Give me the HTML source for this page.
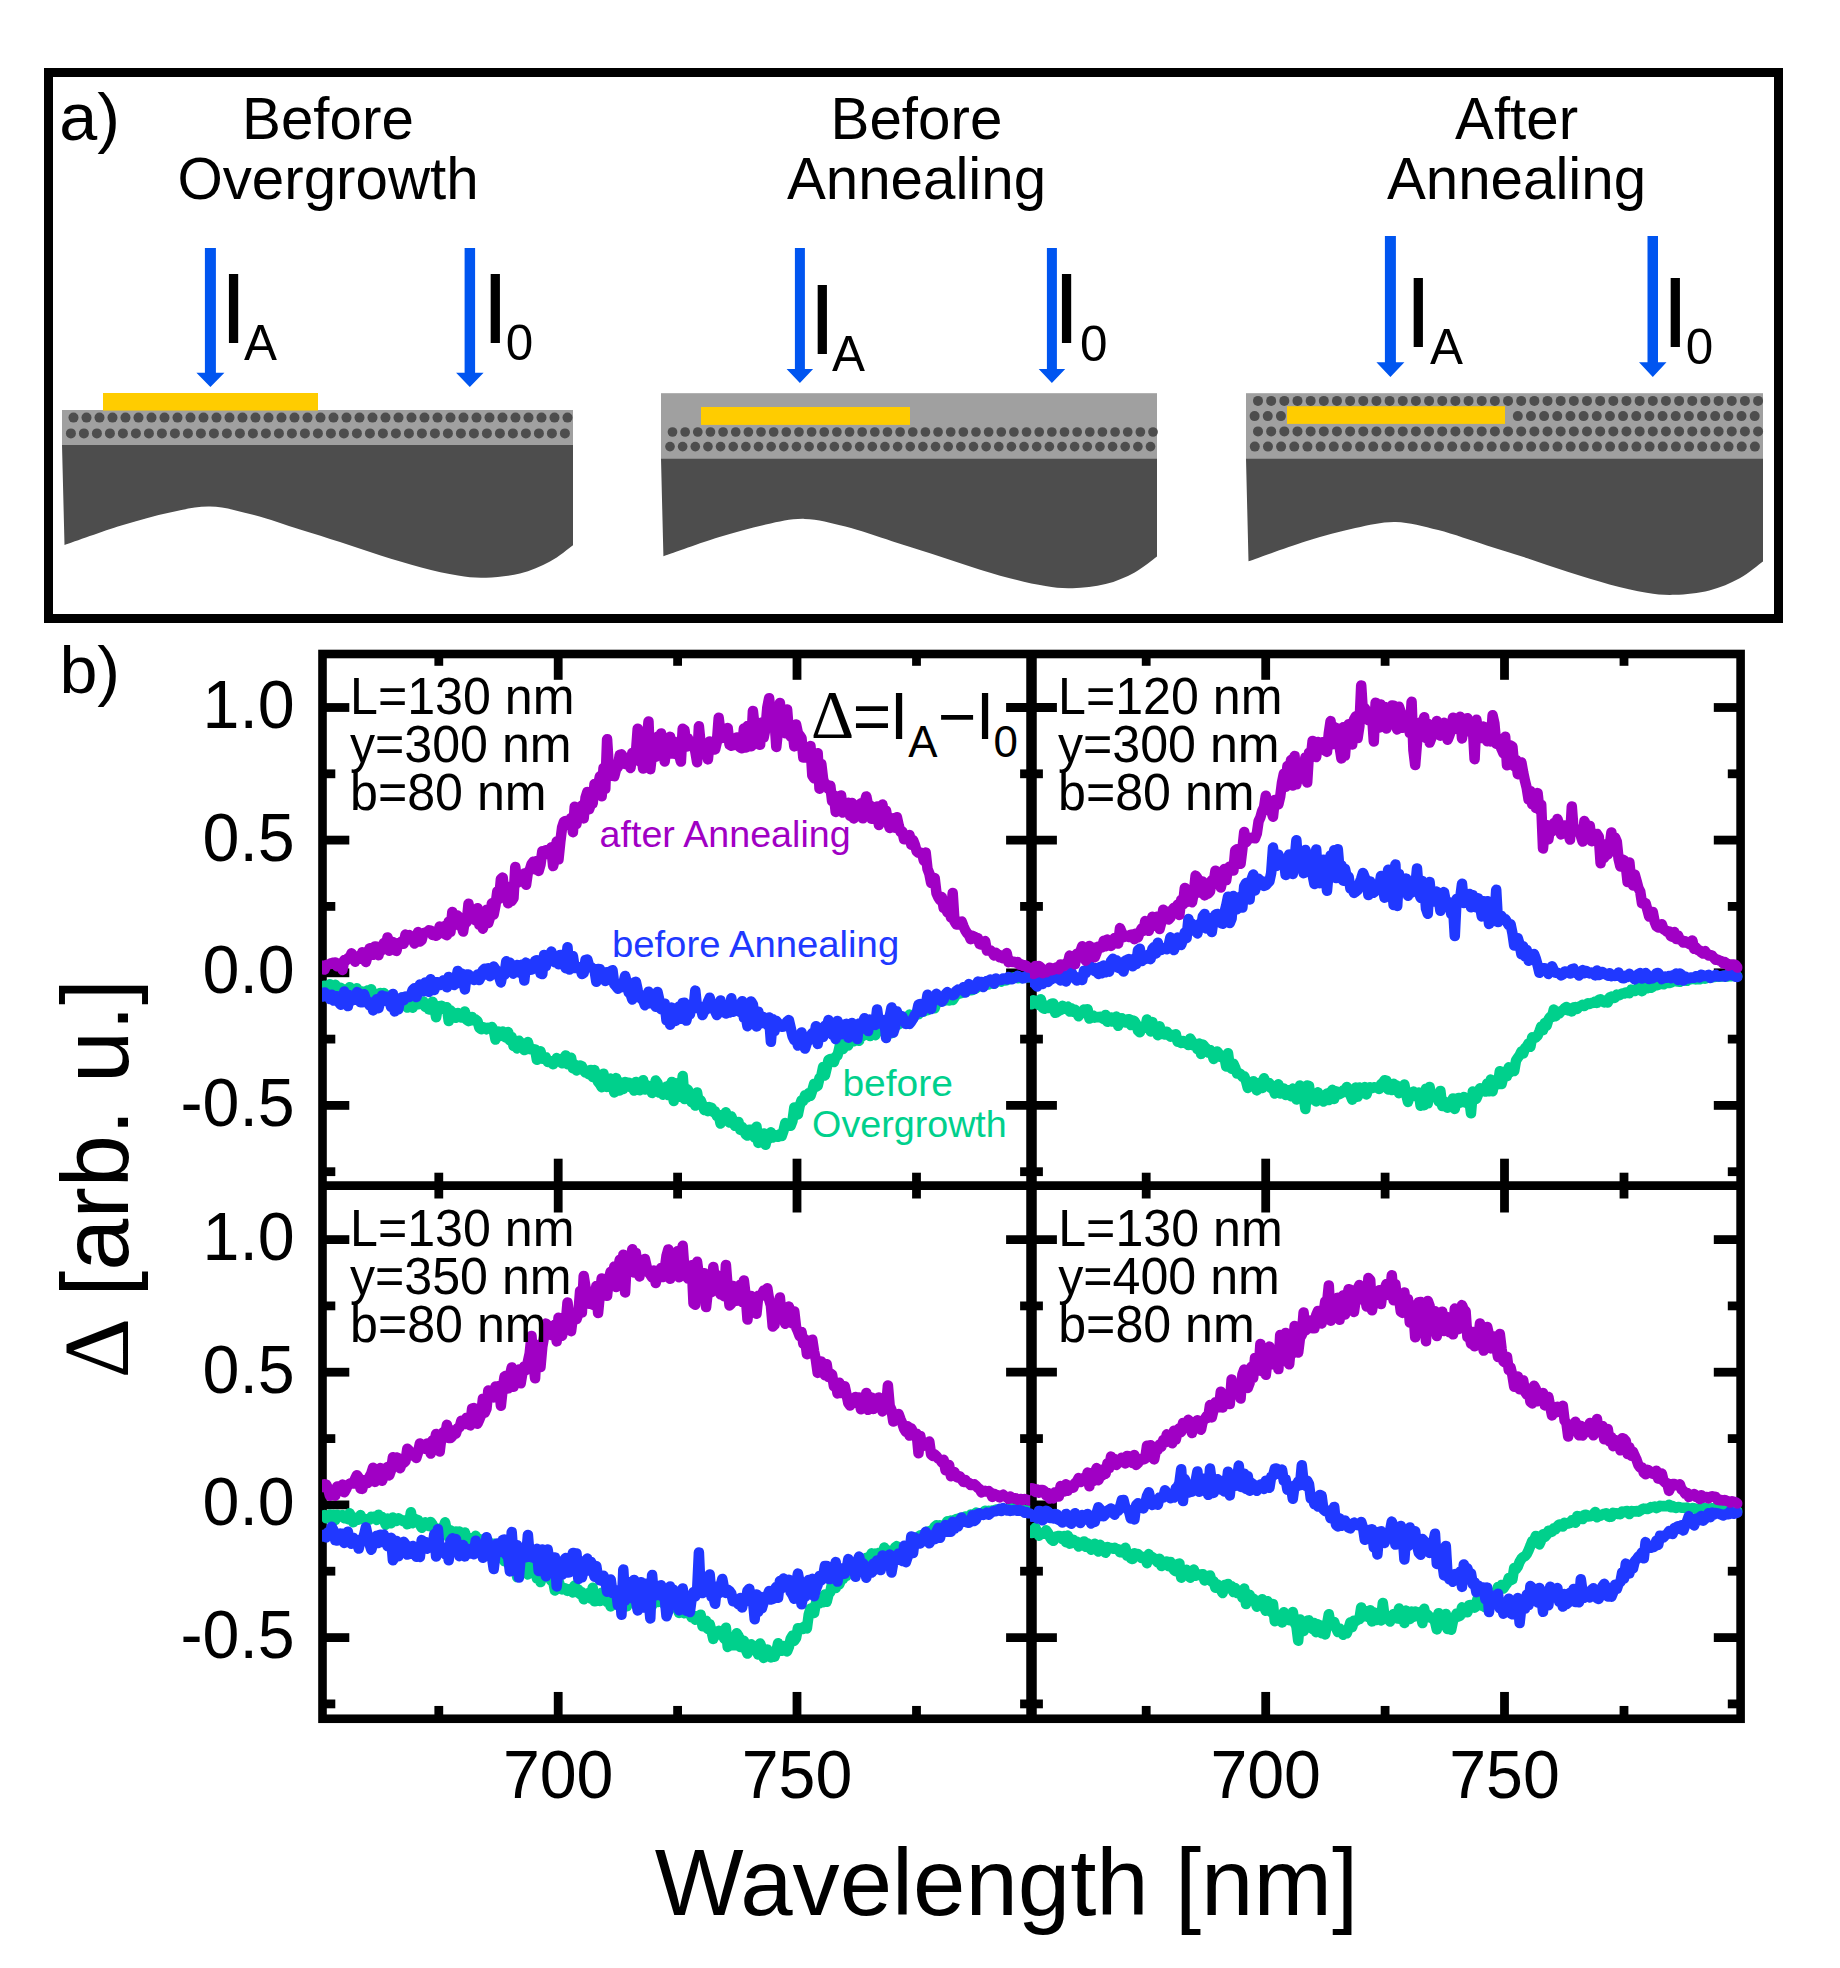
<!DOCTYPE html>
<html lang="en"><head><meta charset="utf-8"><title>Figure</title>
<style>
html,body{margin:0;padding:0;background:#fff;}
svg{display:block;font-family:"Liberation Sans", Arial, Helvetica, sans-serif;}
</style></head>
<body>
<svg width="1840" height="1968" viewBox="0 0 1840 1968">
<rect width="1840" height="1968" fill="#fff"/>
<rect x="48.5" y="72.5" width="1730" height="546" fill="none" stroke="#000" stroke-width="9"/>
<text x="59.3" y="139.6" font-size="67.57" textLength="60.7" lengthAdjust="spacingAndGlyphs">a)</text>
<text x="242.1" y="138.6" font-size="58.50" textLength="171.7" lengthAdjust="spacingAndGlyphs">Before</text>
<text x="177.4" y="198.8" font-size="58.50" textLength="301.2" lengthAdjust="spacingAndGlyphs">Overgrowth</text>
<text x="830.6" y="138.6" font-size="58.50" textLength="171.7" lengthAdjust="spacingAndGlyphs">Before</text>
<text x="786.9" y="198.8" font-size="58.50" textLength="259.2" lengthAdjust="spacingAndGlyphs">Annealing</text>
<text x="1455.0" y="138.6" font-size="58.50" textLength="123.1" lengthAdjust="spacingAndGlyphs">After</text>
<text x="1386.9" y="198.8" font-size="58.50" textLength="259.2" lengthAdjust="spacingAndGlyphs">Annealing</text>
<rect x="62" y="410" width="511" height="35.5" fill="#A0A0A0"/>
<path d="M62,445 L573,445 L573.0,545.2 C569.2,547.9 558.8,556.8 550.0,561.5 C541.2,566.2 530.7,570.8 520.0,573.5 C509.3,576.2 496.3,577.4 486.0,577.7 C475.7,578.1 468.8,577.3 458.0,575.6 C447.2,573.9 434.2,570.9 421.3,567.5 C408.4,564.1 394.2,559.6 380.6,555.4 C367.1,551.1 353.4,546.3 340.0,542.0 C326.6,537.7 314.7,534.1 300.0,529.5 C285.3,524.9 267.0,518.3 252.0,514.5 C237.0,510.7 223.7,506.9 210.0,506.6 C196.3,506.3 184.8,509.4 170.0,512.5 C155.2,515.6 138.9,520.1 121.3,525.5 C103.7,530.9 74.0,541.8 64.5,545.0 Z" fill="#4D4D4D"/>
<g fill="#4D4D4D">
<circle cx="73.50" cy="417.6" r="5.0"/>
<circle cx="86.50" cy="417.6" r="5.0"/>
<circle cx="99.50" cy="417.6" r="5.0"/>
<circle cx="112.50" cy="417.6" r="5.0"/>
<circle cx="125.50" cy="417.6" r="5.0"/>
<circle cx="138.50" cy="417.6" r="5.0"/>
<circle cx="151.50" cy="417.6" r="5.0"/>
<circle cx="164.50" cy="417.6" r="5.0"/>
<circle cx="177.50" cy="417.6" r="5.0"/>
<circle cx="190.50" cy="417.6" r="5.0"/>
<circle cx="203.50" cy="417.6" r="5.0"/>
<circle cx="216.50" cy="417.6" r="5.0"/>
<circle cx="229.50" cy="417.6" r="5.0"/>
<circle cx="242.50" cy="417.6" r="5.0"/>
<circle cx="255.50" cy="417.6" r="5.0"/>
<circle cx="268.50" cy="417.6" r="5.0"/>
<circle cx="281.50" cy="417.6" r="5.0"/>
<circle cx="294.50" cy="417.6" r="5.0"/>
<circle cx="307.50" cy="417.6" r="5.0"/>
<circle cx="320.50" cy="417.6" r="5.0"/>
<circle cx="333.50" cy="417.6" r="5.0"/>
<circle cx="346.50" cy="417.6" r="5.0"/>
<circle cx="359.50" cy="417.6" r="5.0"/>
<circle cx="372.50" cy="417.6" r="5.0"/>
<circle cx="385.50" cy="417.6" r="5.0"/>
<circle cx="398.50" cy="417.6" r="5.0"/>
<circle cx="411.50" cy="417.6" r="5.0"/>
<circle cx="424.50" cy="417.6" r="5.0"/>
<circle cx="437.50" cy="417.6" r="5.0"/>
<circle cx="450.50" cy="417.6" r="5.0"/>
<circle cx="463.50" cy="417.6" r="5.0"/>
<circle cx="476.50" cy="417.6" r="5.0"/>
<circle cx="489.50" cy="417.6" r="5.0"/>
<circle cx="502.50" cy="417.6" r="5.0"/>
<circle cx="515.50" cy="417.6" r="5.0"/>
<circle cx="528.50" cy="417.6" r="5.0"/>
<circle cx="541.50" cy="417.6" r="5.0"/>
<circle cx="554.50" cy="417.6" r="5.0"/>
<circle cx="567.50" cy="417.6" r="5.0"/>
<circle cx="70.90" cy="433.4" r="5.0"/>
<circle cx="83.90" cy="433.4" r="5.0"/>
<circle cx="96.90" cy="433.4" r="5.0"/>
<circle cx="109.90" cy="433.4" r="5.0"/>
<circle cx="122.90" cy="433.4" r="5.0"/>
<circle cx="135.90" cy="433.4" r="5.0"/>
<circle cx="148.90" cy="433.4" r="5.0"/>
<circle cx="161.90" cy="433.4" r="5.0"/>
<circle cx="174.90" cy="433.4" r="5.0"/>
<circle cx="187.90" cy="433.4" r="5.0"/>
<circle cx="200.90" cy="433.4" r="5.0"/>
<circle cx="213.90" cy="433.4" r="5.0"/>
<circle cx="226.90" cy="433.4" r="5.0"/>
<circle cx="239.90" cy="433.4" r="5.0"/>
<circle cx="252.90" cy="433.4" r="5.0"/>
<circle cx="265.90" cy="433.4" r="5.0"/>
<circle cx="278.90" cy="433.4" r="5.0"/>
<circle cx="291.90" cy="433.4" r="5.0"/>
<circle cx="304.90" cy="433.4" r="5.0"/>
<circle cx="317.90" cy="433.4" r="5.0"/>
<circle cx="330.90" cy="433.4" r="5.0"/>
<circle cx="343.90" cy="433.4" r="5.0"/>
<circle cx="356.90" cy="433.4" r="5.0"/>
<circle cx="369.90" cy="433.4" r="5.0"/>
<circle cx="382.90" cy="433.4" r="5.0"/>
<circle cx="395.90" cy="433.4" r="5.0"/>
<circle cx="408.90" cy="433.4" r="5.0"/>
<circle cx="421.90" cy="433.4" r="5.0"/>
<circle cx="434.90" cy="433.4" r="5.0"/>
<circle cx="447.90" cy="433.4" r="5.0"/>
<circle cx="460.90" cy="433.4" r="5.0"/>
<circle cx="473.90" cy="433.4" r="5.0"/>
<circle cx="486.90" cy="433.4" r="5.0"/>
<circle cx="499.90" cy="433.4" r="5.0"/>
<circle cx="512.90" cy="433.4" r="5.0"/>
<circle cx="525.90" cy="433.4" r="5.0"/>
<circle cx="538.90" cy="433.4" r="5.0"/>
<circle cx="551.90" cy="433.4" r="5.0"/>
<circle cx="564.90" cy="433.4" r="5.0"/>
</g>
<rect x="103" y="393" width="215" height="17.6" fill="#FFCC00"/>
<path d="M204.9,248 H215.9 V372.8 H224.4 L210.4,387 L196.4,372.8 H204.9 Z" fill="#0055F0"/>
<path d="M464.6,248 H475.1 V372.8 H483.6 L469.8,387 L456.1,372.8 H464.6 Z" fill="#0055F0"/>
<text><tspan x="219.8" y="343" font-size="99.39">I</tspan><tspan x="244.0" y="359.8" font-size="49.44">A</tspan></text>
<text><tspan x="481.6" y="343" font-size="99.39">I</tspan><tspan x="505.7" y="359.8" font-size="49.44">0</tspan></text>
<rect x="661" y="393.2" width="496" height="66" fill="#A0A0A0"/>
<path d="M661,458.8 L1157,458.8 L1157.0,556.5 C1153.3,559.1 1143.2,567.8 1134.7,572.4 C1126.1,577.0 1115.9,581.5 1105.6,584.1 C1095.2,586.7 1082.6,587.8 1072.6,588.2 C1062.5,588.5 1055.8,587.8 1045.4,586.1 C1034.9,584.5 1022.3,581.5 1009.8,578.2 C997.2,575.0 983.4,570.6 970.2,566.4 C957.1,562.3 943.9,557.6 930.8,553.4 C917.8,549.2 906.2,545.7 892.0,541.2 C877.8,536.7 860.0,530.3 845.4,526.6 C830.9,522.8 817.9,519.2 804.7,518.9 C791.4,518.5 780.2,521.5 765.8,524.6 C751.5,527.7 735.6,532.0 718.6,537.3 C701.5,542.6 672.6,553.1 663.4,556.3 Z" fill="#4D4D4D"/>
<g fill="#4D4D4D">
<circle cx="672.50" cy="432" r="4.85"/>
<circle cx="685.14" cy="432" r="4.85"/>
<circle cx="697.79" cy="432" r="4.85"/>
<circle cx="710.43" cy="432" r="4.85"/>
<circle cx="723.08" cy="432" r="4.85"/>
<circle cx="735.73" cy="432" r="4.85"/>
<circle cx="748.37" cy="432" r="4.85"/>
<circle cx="761.01" cy="432" r="4.85"/>
<circle cx="773.66" cy="432" r="4.85"/>
<circle cx="786.30" cy="432" r="4.85"/>
<circle cx="798.95" cy="432" r="4.85"/>
<circle cx="811.60" cy="432" r="4.85"/>
<circle cx="824.24" cy="432" r="4.85"/>
<circle cx="836.88" cy="432" r="4.85"/>
<circle cx="849.53" cy="432" r="4.85"/>
<circle cx="862.17" cy="432" r="4.85"/>
<circle cx="874.82" cy="432" r="4.85"/>
<circle cx="887.47" cy="432" r="4.85"/>
<circle cx="900.11" cy="432" r="4.85"/>
<circle cx="912.75" cy="432" r="4.85"/>
<circle cx="925.40" cy="432" r="4.85"/>
<circle cx="938.05" cy="432" r="4.85"/>
<circle cx="950.69" cy="432" r="4.85"/>
<circle cx="963.34" cy="432" r="4.85"/>
<circle cx="975.98" cy="432" r="4.85"/>
<circle cx="988.62" cy="432" r="4.85"/>
<circle cx="1001.27" cy="432" r="4.85"/>
<circle cx="1013.91" cy="432" r="4.85"/>
<circle cx="1026.56" cy="432" r="4.85"/>
<circle cx="1039.20" cy="432" r="4.85"/>
<circle cx="1051.85" cy="432" r="4.85"/>
<circle cx="1064.49" cy="432" r="4.85"/>
<circle cx="1077.14" cy="432" r="4.85"/>
<circle cx="1089.78" cy="432" r="4.85"/>
<circle cx="1102.43" cy="432" r="4.85"/>
<circle cx="1115.08" cy="432" r="4.85"/>
<circle cx="1127.72" cy="432" r="4.85"/>
<circle cx="1140.37" cy="432" r="4.85"/>
<circle cx="1153.01" cy="432" r="4.85"/>
<circle cx="670.00" cy="446.6" r="4.85"/>
<circle cx="682.64" cy="446.6" r="4.85"/>
<circle cx="695.29" cy="446.6" r="4.85"/>
<circle cx="707.93" cy="446.6" r="4.85"/>
<circle cx="720.58" cy="446.6" r="4.85"/>
<circle cx="733.23" cy="446.6" r="4.85"/>
<circle cx="745.87" cy="446.6" r="4.85"/>
<circle cx="758.51" cy="446.6" r="4.85"/>
<circle cx="771.16" cy="446.6" r="4.85"/>
<circle cx="783.80" cy="446.6" r="4.85"/>
<circle cx="796.45" cy="446.6" r="4.85"/>
<circle cx="809.10" cy="446.6" r="4.85"/>
<circle cx="821.74" cy="446.6" r="4.85"/>
<circle cx="834.38" cy="446.6" r="4.85"/>
<circle cx="847.03" cy="446.6" r="4.85"/>
<circle cx="859.67" cy="446.6" r="4.85"/>
<circle cx="872.32" cy="446.6" r="4.85"/>
<circle cx="884.97" cy="446.6" r="4.85"/>
<circle cx="897.61" cy="446.6" r="4.85"/>
<circle cx="910.25" cy="446.6" r="4.85"/>
<circle cx="922.90" cy="446.6" r="4.85"/>
<circle cx="935.55" cy="446.6" r="4.85"/>
<circle cx="948.19" cy="446.6" r="4.85"/>
<circle cx="960.84" cy="446.6" r="4.85"/>
<circle cx="973.48" cy="446.6" r="4.85"/>
<circle cx="986.12" cy="446.6" r="4.85"/>
<circle cx="998.77" cy="446.6" r="4.85"/>
<circle cx="1011.41" cy="446.6" r="4.85"/>
<circle cx="1024.06" cy="446.6" r="4.85"/>
<circle cx="1036.70" cy="446.6" r="4.85"/>
<circle cx="1049.35" cy="446.6" r="4.85"/>
<circle cx="1061.99" cy="446.6" r="4.85"/>
<circle cx="1074.64" cy="446.6" r="4.85"/>
<circle cx="1087.28" cy="446.6" r="4.85"/>
<circle cx="1099.93" cy="446.6" r="4.85"/>
<circle cx="1112.58" cy="446.6" r="4.85"/>
<circle cx="1125.22" cy="446.6" r="4.85"/>
<circle cx="1137.87" cy="446.6" r="4.85"/>
<circle cx="1150.51" cy="446.6" r="4.85"/>
</g>
<rect x="701" y="407" width="209" height="17.9" fill="#FFCC00"/>
<path d="M794.9,248 H804.9 V369 H813.1 L799.9,383 L786.6,369 H794.9 Z" fill="#0055F0"/>
<path d="M1046.9,248 H1056.9 V369 H1065.2 L1051.9,383 L1038.7,369 H1046.9 Z" fill="#0055F0"/>
<text><tspan x="808.6" y="354" font-size="99.39">I</tspan><tspan x="832.0" y="370.8" font-size="49.44">A</tspan></text>
<text><tspan x="1052.8" y="343" font-size="99.39">I</tspan><tspan x="1080.0" y="361.2" font-size="49.44">0</tspan></text>
<rect x="1246" y="393.2" width="517" height="66" fill="#A0A0A0"/>
<path d="M1246,458.8 L1763,458.8 L1763.0,561.5 C1759.1,564.3 1748.7,573.4 1739.7,578.2 C1730.8,583.0 1720.2,587.7 1709.4,590.5 C1698.6,593.3 1685.4,594.5 1675.0,594.8 C1664.5,595.2 1657.6,594.4 1646.6,592.7 C1635.7,590.9 1622.6,587.8 1609.5,584.4 C1596.5,580.9 1582.0,576.3 1568.3,572.0 C1554.6,567.6 1540.9,562.6 1527.3,558.2 C1513.7,553.8 1501.6,550.1 1486.8,545.4 C1472.0,540.7 1453.4,533.9 1438.2,530.0 C1423.1,526.1 1409.6,522.3 1395.7,521.9 C1381.9,521.6 1370.2,524.8 1355.3,528.0 C1340.3,531.2 1323.8,535.8 1306.0,541.3 C1288.2,546.9 1258.1,558.0 1248.5,561.3 Z" fill="#4D4D4D"/>
<g fill="#4D4D4D">
<circle cx="1258.00" cy="400.9" r="5.0"/>
<circle cx="1271.16" cy="400.9" r="5.0"/>
<circle cx="1284.32" cy="400.9" r="5.0"/>
<circle cx="1297.48" cy="400.9" r="5.0"/>
<circle cx="1310.64" cy="400.9" r="5.0"/>
<circle cx="1323.80" cy="400.9" r="5.0"/>
<circle cx="1336.96" cy="400.9" r="5.0"/>
<circle cx="1350.12" cy="400.9" r="5.0"/>
<circle cx="1363.28" cy="400.9" r="5.0"/>
<circle cx="1376.44" cy="400.9" r="5.0"/>
<circle cx="1389.60" cy="400.9" r="5.0"/>
<circle cx="1402.76" cy="400.9" r="5.0"/>
<circle cx="1415.92" cy="400.9" r="5.0"/>
<circle cx="1429.08" cy="400.9" r="5.0"/>
<circle cx="1442.24" cy="400.9" r="5.0"/>
<circle cx="1455.40" cy="400.9" r="5.0"/>
<circle cx="1468.56" cy="400.9" r="5.0"/>
<circle cx="1481.72" cy="400.9" r="5.0"/>
<circle cx="1494.88" cy="400.9" r="5.0"/>
<circle cx="1508.04" cy="400.9" r="5.0"/>
<circle cx="1521.20" cy="400.9" r="5.0"/>
<circle cx="1534.36" cy="400.9" r="5.0"/>
<circle cx="1547.52" cy="400.9" r="5.0"/>
<circle cx="1560.68" cy="400.9" r="5.0"/>
<circle cx="1573.84" cy="400.9" r="5.0"/>
<circle cx="1587.00" cy="400.9" r="5.0"/>
<circle cx="1600.16" cy="400.9" r="5.0"/>
<circle cx="1613.32" cy="400.9" r="5.0"/>
<circle cx="1626.48" cy="400.9" r="5.0"/>
<circle cx="1639.64" cy="400.9" r="5.0"/>
<circle cx="1652.80" cy="400.9" r="5.0"/>
<circle cx="1665.96" cy="400.9" r="5.0"/>
<circle cx="1679.12" cy="400.9" r="5.0"/>
<circle cx="1692.28" cy="400.9" r="5.0"/>
<circle cx="1705.44" cy="400.9" r="5.0"/>
<circle cx="1718.60" cy="400.9" r="5.0"/>
<circle cx="1731.76" cy="400.9" r="5.0"/>
<circle cx="1744.92" cy="400.9" r="5.0"/>
<circle cx="1758.08" cy="400.9" r="5.0"/>
<circle cx="1254.60" cy="416.1" r="5.0"/>
<circle cx="1267.76" cy="416.1" r="5.0"/>
<circle cx="1280.92" cy="416.1" r="5.0"/>
<circle cx="1517.80" cy="416.1" r="5.0"/>
<circle cx="1530.96" cy="416.1" r="5.0"/>
<circle cx="1544.12" cy="416.1" r="5.0"/>
<circle cx="1557.28" cy="416.1" r="5.0"/>
<circle cx="1570.44" cy="416.1" r="5.0"/>
<circle cx="1583.60" cy="416.1" r="5.0"/>
<circle cx="1596.76" cy="416.1" r="5.0"/>
<circle cx="1609.92" cy="416.1" r="5.0"/>
<circle cx="1623.08" cy="416.1" r="5.0"/>
<circle cx="1636.24" cy="416.1" r="5.0"/>
<circle cx="1649.40" cy="416.1" r="5.0"/>
<circle cx="1662.56" cy="416.1" r="5.0"/>
<circle cx="1675.72" cy="416.1" r="5.0"/>
<circle cx="1688.88" cy="416.1" r="5.0"/>
<circle cx="1702.04" cy="416.1" r="5.0"/>
<circle cx="1715.20" cy="416.1" r="5.0"/>
<circle cx="1728.36" cy="416.1" r="5.0"/>
<circle cx="1741.52" cy="416.1" r="5.0"/>
<circle cx="1754.68" cy="416.1" r="5.0"/>
<circle cx="1258.00" cy="431.4" r="5.0"/>
<circle cx="1271.16" cy="431.4" r="5.0"/>
<circle cx="1284.32" cy="431.4" r="5.0"/>
<circle cx="1297.48" cy="431.4" r="5.0"/>
<circle cx="1310.64" cy="431.4" r="5.0"/>
<circle cx="1323.80" cy="431.4" r="5.0"/>
<circle cx="1336.96" cy="431.4" r="5.0"/>
<circle cx="1350.12" cy="431.4" r="5.0"/>
<circle cx="1363.28" cy="431.4" r="5.0"/>
<circle cx="1376.44" cy="431.4" r="5.0"/>
<circle cx="1389.60" cy="431.4" r="5.0"/>
<circle cx="1402.76" cy="431.4" r="5.0"/>
<circle cx="1415.92" cy="431.4" r="5.0"/>
<circle cx="1429.08" cy="431.4" r="5.0"/>
<circle cx="1442.24" cy="431.4" r="5.0"/>
<circle cx="1455.40" cy="431.4" r="5.0"/>
<circle cx="1468.56" cy="431.4" r="5.0"/>
<circle cx="1481.72" cy="431.4" r="5.0"/>
<circle cx="1494.88" cy="431.4" r="5.0"/>
<circle cx="1508.04" cy="431.4" r="5.0"/>
<circle cx="1521.20" cy="431.4" r="5.0"/>
<circle cx="1534.36" cy="431.4" r="5.0"/>
<circle cx="1547.52" cy="431.4" r="5.0"/>
<circle cx="1560.68" cy="431.4" r="5.0"/>
<circle cx="1573.84" cy="431.4" r="5.0"/>
<circle cx="1587.00" cy="431.4" r="5.0"/>
<circle cx="1600.16" cy="431.4" r="5.0"/>
<circle cx="1613.32" cy="431.4" r="5.0"/>
<circle cx="1626.48" cy="431.4" r="5.0"/>
<circle cx="1639.64" cy="431.4" r="5.0"/>
<circle cx="1652.80" cy="431.4" r="5.0"/>
<circle cx="1665.96" cy="431.4" r="5.0"/>
<circle cx="1679.12" cy="431.4" r="5.0"/>
<circle cx="1692.28" cy="431.4" r="5.0"/>
<circle cx="1705.44" cy="431.4" r="5.0"/>
<circle cx="1718.60" cy="431.4" r="5.0"/>
<circle cx="1731.76" cy="431.4" r="5.0"/>
<circle cx="1744.92" cy="431.4" r="5.0"/>
<circle cx="1758.08" cy="431.4" r="5.0"/>
<circle cx="1254.80" cy="446.6" r="5.0"/>
<circle cx="1267.96" cy="446.6" r="5.0"/>
<circle cx="1281.12" cy="446.6" r="5.0"/>
<circle cx="1294.28" cy="446.6" r="5.0"/>
<circle cx="1307.44" cy="446.6" r="5.0"/>
<circle cx="1320.60" cy="446.6" r="5.0"/>
<circle cx="1333.76" cy="446.6" r="5.0"/>
<circle cx="1346.92" cy="446.6" r="5.0"/>
<circle cx="1360.08" cy="446.6" r="5.0"/>
<circle cx="1373.24" cy="446.6" r="5.0"/>
<circle cx="1386.40" cy="446.6" r="5.0"/>
<circle cx="1399.56" cy="446.6" r="5.0"/>
<circle cx="1412.72" cy="446.6" r="5.0"/>
<circle cx="1425.88" cy="446.6" r="5.0"/>
<circle cx="1439.04" cy="446.6" r="5.0"/>
<circle cx="1452.20" cy="446.6" r="5.0"/>
<circle cx="1465.36" cy="446.6" r="5.0"/>
<circle cx="1478.52" cy="446.6" r="5.0"/>
<circle cx="1491.68" cy="446.6" r="5.0"/>
<circle cx="1504.84" cy="446.6" r="5.0"/>
<circle cx="1518.00" cy="446.6" r="5.0"/>
<circle cx="1531.16" cy="446.6" r="5.0"/>
<circle cx="1544.32" cy="446.6" r="5.0"/>
<circle cx="1557.48" cy="446.6" r="5.0"/>
<circle cx="1570.64" cy="446.6" r="5.0"/>
<circle cx="1583.80" cy="446.6" r="5.0"/>
<circle cx="1596.96" cy="446.6" r="5.0"/>
<circle cx="1610.12" cy="446.6" r="5.0"/>
<circle cx="1623.28" cy="446.6" r="5.0"/>
<circle cx="1636.44" cy="446.6" r="5.0"/>
<circle cx="1649.60" cy="446.6" r="5.0"/>
<circle cx="1662.76" cy="446.6" r="5.0"/>
<circle cx="1675.92" cy="446.6" r="5.0"/>
<circle cx="1689.08" cy="446.6" r="5.0"/>
<circle cx="1702.24" cy="446.6" r="5.0"/>
<circle cx="1715.40" cy="446.6" r="5.0"/>
<circle cx="1728.56" cy="446.6" r="5.0"/>
<circle cx="1741.72" cy="446.6" r="5.0"/>
<circle cx="1754.88" cy="446.6" r="5.0"/>
</g>
<rect x="1287" y="406.2" width="218" height="17.7" fill="#FFCC00"/>
<path d="M1384.9,236 H1395.9 V362.3 H1404.4 L1390.4,377 L1376.4,362.3 H1384.9 Z" fill="#0055F0"/>
<path d="M1647.5,236 H1658.0 V362.3 H1666.5 L1652.8,377 L1639.0,362.3 H1647.5 Z" fill="#0055F0"/>
<text><tspan x="1404.5" y="347" font-size="99.39">I</tspan><tspan x="1430.0" y="363.9" font-size="49.44">A</tspan></text>
<text><tspan x="1661.6" y="347" font-size="99.39">I</tspan><tspan x="1685.7" y="363.6" font-size="49.44">0</tspan></text>
<text x="59.4" y="692.5" font-size="67.57" textLength="60.7" lengthAdjust="spacingAndGlyphs">b)</text>
<g stroke="#000" fill="none" stroke-linecap="butt">
<rect x="322.5" y="654.0" width="1418.1" height="1064.75" stroke-width="8.6"/>
<line x1="1031.5" y1="654.0" x2="1031.5" y2="1718.75" stroke-width="10.5"/>
<line x1="322.5" y1="1185.6" x2="1740.6" y2="1185.6" stroke-width="8.8"/>
<g stroke-width="8.8">
<line x1="322.5" y1="707.5" x2="349.3" y2="707.5"/>
<line x1="1740.6" y1="707.5" x2="1713.8" y2="707.5"/>
<line x1="1006.0999999999999" y1="707.5" x2="1056.9" y2="707.5"/>
<line x1="322.5" y1="773.8" x2="335.3" y2="773.8"/>
<line x1="1740.6" y1="773.8" x2="1727.8" y2="773.8"/>
<line x1="1020.0999999999999" y1="773.8" x2="1042.9" y2="773.8"/>
<line x1="322.5" y1="840.1" x2="349.3" y2="840.1"/>
<line x1="1740.6" y1="840.1" x2="1713.8" y2="840.1"/>
<line x1="1006.0999999999999" y1="840.1" x2="1056.9" y2="840.1"/>
<line x1="322.5" y1="906.4" x2="335.3" y2="906.4"/>
<line x1="1740.6" y1="906.4" x2="1727.8" y2="906.4"/>
<line x1="1020.0999999999999" y1="906.4" x2="1042.9" y2="906.4"/>
<line x1="322.5" y1="972.8" x2="349.3" y2="972.8"/>
<line x1="1740.6" y1="972.8" x2="1713.8" y2="972.8"/>
<line x1="1006.0999999999999" y1="972.8" x2="1056.9" y2="972.8"/>
<line x1="322.5" y1="1039.1" x2="335.3" y2="1039.1"/>
<line x1="1740.6" y1="1039.1" x2="1727.8" y2="1039.1"/>
<line x1="1020.0999999999999" y1="1039.1" x2="1042.9" y2="1039.1"/>
<line x1="322.5" y1="1105.4" x2="349.3" y2="1105.4"/>
<line x1="1740.6" y1="1105.4" x2="1713.8" y2="1105.4"/>
<line x1="1006.0999999999999" y1="1105.4" x2="1056.9" y2="1105.4"/>
<line x1="322.5" y1="1171.7" x2="335.3" y2="1171.7"/>
<line x1="1740.6" y1="1171.7" x2="1727.8" y2="1171.7"/>
<line x1="1020.0999999999999" y1="1171.7" x2="1042.9" y2="1171.7"/>
<line x1="322.5" y1="1239.6" x2="349.3" y2="1239.6"/>
<line x1="1740.6" y1="1239.6" x2="1713.8" y2="1239.6"/>
<line x1="1006.0999999999999" y1="1239.6" x2="1056.9" y2="1239.6"/>
<line x1="322.5" y1="1305.9" x2="335.3" y2="1305.9"/>
<line x1="1740.6" y1="1305.9" x2="1727.8" y2="1305.9"/>
<line x1="1020.0999999999999" y1="1305.9" x2="1042.9" y2="1305.9"/>
<line x1="322.5" y1="1372.2" x2="349.3" y2="1372.2"/>
<line x1="1740.6" y1="1372.2" x2="1713.8" y2="1372.2"/>
<line x1="1006.0999999999999" y1="1372.2" x2="1056.9" y2="1372.2"/>
<line x1="322.5" y1="1438.6" x2="335.3" y2="1438.6"/>
<line x1="1740.6" y1="1438.6" x2="1727.8" y2="1438.6"/>
<line x1="1020.0999999999999" y1="1438.6" x2="1042.9" y2="1438.6"/>
<line x1="322.5" y1="1504.9" x2="349.3" y2="1504.9"/>
<line x1="1740.6" y1="1504.9" x2="1713.8" y2="1504.9"/>
<line x1="1006.0999999999999" y1="1504.9" x2="1056.9" y2="1504.9"/>
<line x1="322.5" y1="1571.2" x2="335.3" y2="1571.2"/>
<line x1="1740.6" y1="1571.2" x2="1727.8" y2="1571.2"/>
<line x1="1020.0999999999999" y1="1571.2" x2="1042.9" y2="1571.2"/>
<line x1="322.5" y1="1637.6" x2="349.3" y2="1637.6"/>
<line x1="1740.6" y1="1637.6" x2="1713.8" y2="1637.6"/>
<line x1="1006.0999999999999" y1="1637.6" x2="1056.9" y2="1637.6"/>
<line x1="322.5" y1="1703.9" x2="335.3" y2="1703.9"/>
<line x1="1740.6" y1="1703.9" x2="1727.8" y2="1703.9"/>
<line x1="1020.0999999999999" y1="1703.9" x2="1042.9" y2="1703.9"/>
<line x1="438.8" y1="654.0" x2="438.8" y2="665.8"/>
<line x1="438.8" y1="1718.75" x2="438.8" y2="1705.95"/>
<line x1="438.8" y1="1172.6999999999998" x2="438.8" y2="1198.5"/>
<line x1="558.2" y1="654.0" x2="558.2" y2="679.8"/>
<line x1="558.2" y1="1718.75" x2="558.2" y2="1691.95"/>
<line x1="558.2" y1="1158.6999999999998" x2="558.2" y2="1212.5"/>
<line x1="677.6" y1="654.0" x2="677.6" y2="665.8"/>
<line x1="677.6" y1="1718.75" x2="677.6" y2="1705.95"/>
<line x1="677.6" y1="1172.6999999999998" x2="677.6" y2="1198.5"/>
<line x1="797.0" y1="654.0" x2="797.0" y2="679.8"/>
<line x1="797.0" y1="1718.75" x2="797.0" y2="1691.95"/>
<line x1="797.0" y1="1158.6999999999998" x2="797.0" y2="1212.5"/>
<line x1="916.5" y1="654.0" x2="916.5" y2="665.8"/>
<line x1="916.5" y1="1718.75" x2="916.5" y2="1705.95"/>
<line x1="916.5" y1="1172.6999999999998" x2="916.5" y2="1198.5"/>
<line x1="1146.2" y1="654.0" x2="1146.2" y2="665.8"/>
<line x1="1146.2" y1="1718.75" x2="1146.2" y2="1705.95"/>
<line x1="1146.2" y1="1172.6999999999998" x2="1146.2" y2="1198.5"/>
<line x1="1265.7" y1="654.0" x2="1265.7" y2="679.8"/>
<line x1="1265.7" y1="1718.75" x2="1265.7" y2="1691.95"/>
<line x1="1265.7" y1="1158.6999999999998" x2="1265.7" y2="1212.5"/>
<line x1="1385.1" y1="654.0" x2="1385.1" y2="665.8"/>
<line x1="1385.1" y1="1718.75" x2="1385.1" y2="1705.95"/>
<line x1="1385.1" y1="1172.6999999999998" x2="1385.1" y2="1198.5"/>
<line x1="1504.5" y1="654.0" x2="1504.5" y2="679.8"/>
<line x1="1504.5" y1="1718.75" x2="1504.5" y2="1691.95"/>
<line x1="1504.5" y1="1158.6999999999998" x2="1504.5" y2="1212.5"/>
<line x1="1624.0" y1="654.0" x2="1624.0" y2="665.8"/>
<line x1="1624.0" y1="1718.75" x2="1624.0" y2="1705.95"/>
<line x1="1624.0" y1="1172.6999999999998" x2="1624.0" y2="1198.5"/>
</g></g>
<defs><clipPath id="cl"><rect x="322" y="640" width="708.2" height="1090"/></clipPath><clipPath id="cr"><rect x="1030" y="640" width="712.6" height="1090"/></clipPath></defs>
<g fill="none" stroke-width="10.5" stroke-linejoin="round" stroke-linecap="round">
<g clip-path="url(#cl)">
<path d="M322.7,989.9 L324.5,985.7 L326.3,987.1 L328.1,987.9 L329.9,984.2 L331.7,987.6 L333.5,987.9 L335.3,984.8 L337.1,990.7 L338.9,990.0 L340.7,987.9 L342.5,989.1 L344.3,990.9 L346.1,989.4 L347.9,989.9 L349.7,987.2 L351.5,993.3 L353.3,991.0 L355.1,991.9 L356.9,988.2 L358.7,995.4 L360.5,992.4 L362.3,991.5 L364.1,997.2 L365.9,993.2 L367.7,990.4 L369.5,993.2 L371.3,989.3 L373.1,997.4 L374.9,994.6 L376.7,994.3 L378.5,998.9 L380.3,993.0 L382.1,998.6 L383.9,992.9 L385.7,996.6 L387.5,995.5 L389.3,1002.3 L391.1,1003.7 L392.9,998.8 L394.7,1002.2 L396.5,999.9 L398.3,1002.2 L400.1,999.3 L401.9,997.5 L403.7,997.3 L405.5,1002.9 L407.3,1007.6 L409.1,1003.0 L410.9,1001.2 L412.7,1007.7 L414.5,1003.8 L416.3,1004.0 L418.1,1004.2 L419.9,1003.9 L421.7,1003.9 L423.5,1001.4 L425.3,1006.9 L427.1,1005.6 L428.9,1009.4 L430.7,1005.6 L432.5,1001.7 L434.3,1007.4 L436.1,1017.2 L437.9,1007.3 L439.7,1006.2 L441.5,1005.8 L443.3,1006.8 L445.1,1009.4 L446.9,1007.2 L448.7,1021.0 L450.5,1010.5 L452.3,1012.5 L454.1,1016.8 L455.9,1017.7 L457.7,1013.0 L459.5,1015.4 L461.3,1017.6 L463.1,1015.4 L464.9,1011.5 L466.7,1019.8 L468.5,1021.1 L470.3,1020.5 L472.1,1016.9 L473.9,1020.2 L475.7,1019.6 L477.5,1021.2 L479.3,1027.6 L481.1,1029.3 L482.9,1027.3 L484.7,1027.6 L486.5,1029.2 L488.3,1027.8 L490.1,1028.5 L491.9,1027.0 L493.7,1030.3 L495.5,1039.6 L497.3,1035.0 L499.1,1031.7 L500.9,1032.3 L502.7,1031.4 L504.5,1036.8 L506.3,1037.6 L508.1,1031.9 L509.9,1040.4 L511.7,1037.0 L513.5,1045.9 L515.3,1041.5 L517.1,1048.4 L518.9,1040.7 L520.7,1042.7 L522.5,1046.2 L524.3,1050.1 L526.1,1048.6 L527.9,1042.1 L529.7,1049.0 L531.5,1049.4 L533.3,1049.2 L535.1,1049.4 L536.9,1059.8 L538.7,1051.8 L540.5,1051.3 L542.3,1058.7 L544.1,1057.4 L545.9,1057.3 L547.7,1061.9 L549.5,1061.0 L551.3,1061.2 L553.1,1064.3 L554.9,1061.6 L556.7,1058.1 L558.5,1061.4 L560.3,1059.5 L562.1,1063.2 L563.9,1058.1 L565.7,1055.4 L567.5,1064.2 L569.3,1059.1 L571.1,1057.8 L572.9,1068.3 L574.7,1064.5 L576.5,1070.4 L578.3,1066.9 L580.1,1065.6 L581.9,1066.2 L583.7,1070.4 L585.5,1072.6 L587.3,1070.7 L589.1,1074.3 L590.9,1069.9 L592.7,1077.1 L594.5,1070.0 L596.3,1077.8 L598.1,1081.9 L599.9,1084.0 L601.7,1087.2 L603.5,1073.7 L605.3,1084.3 L607.1,1086.9 L608.9,1086.2 L610.7,1078.6 L612.5,1084.9 L614.3,1092.4 L616.1,1078.1 L617.9,1087.4 L619.7,1090.5 L621.5,1082.7 L623.3,1088.9 L625.1,1082.0 L626.9,1083.0 L628.7,1082.8 L630.5,1087.1 L632.3,1085.9 L634.1,1090.6 L635.9,1082.0 L637.7,1085.6 L639.5,1090.3 L641.3,1088.4 L643.1,1080.2 L644.9,1089.5 L646.7,1085.0 L648.5,1089.0 L650.3,1088.4 L652.1,1093.0 L653.9,1088.9 L655.7,1080.5 L657.5,1083.0 L659.3,1092.6 L661.1,1088.2 L662.9,1094.7 L664.7,1090.9 L666.5,1086.6 L668.3,1095.1 L670.1,1086.7 L671.9,1081.9 L673.7,1101.0 L675.5,1083.3 L677.3,1095.2 L679.1,1096.7 L680.9,1093.5 L682.7,1076.0 L684.5,1099.0 L686.3,1088.8 L688.1,1090.1 L689.9,1095.6 L691.7,1102.3 L693.5,1101.5 L695.3,1105.6 L697.1,1092.5 L698.9,1103.7 L700.7,1100.4 L702.5,1105.1 L704.3,1110.0 L706.1,1106.9 L707.9,1111.2 L709.7,1107.2 L711.5,1107.7 L713.3,1111.8 L715.1,1111.6 L716.9,1116.1 L718.7,1114.9 L720.5,1123.5 L722.3,1114.9 L724.1,1115.7 L725.9,1112.3 L727.7,1118.7 L729.5,1122.5 L731.3,1116.4 L733.1,1121.3 L734.9,1125.8 L736.7,1122.7 L738.5,1121.9 L740.3,1129.9 L742.1,1127.0 L743.9,1129.2 L745.7,1134.4 L747.5,1135.6 L749.3,1129.7 L751.1,1129.8 L752.9,1134.5 L754.7,1137.6 L756.5,1126.7 L758.3,1142.9 L760.1,1137.9 L761.9,1141.8 L763.7,1133.4 L765.5,1144.8 L767.3,1136.6 L769.1,1138.6 L770.9,1132.3 L772.7,1137.5 L774.5,1136.2 L776.3,1135.6 L778.1,1136.8 L779.9,1134.2 L781.7,1136.1 L783.5,1130.8 L785.3,1123.0 L787.1,1125.4 L788.9,1125.7 L790.7,1125.8 L792.5,1120.9 L794.3,1107.4 L796.1,1112.9 L797.9,1114.4 L799.7,1105.7 L801.5,1100.5 L803.3,1100.7 L805.1,1095.2 L806.9,1097.4 L808.7,1093.0 L810.5,1095.8 L812.3,1090.4 L814.1,1083.8 L815.9,1086.8 L817.7,1085.9 L819.5,1078.0 L821.3,1075.8 L823.1,1067.0 L824.9,1075.5 L826.7,1068.1 L828.5,1060.0 L830.3,1058.9 L832.1,1061.5 L833.9,1062.0 L835.7,1056.6 L837.5,1055.6 L839.3,1048.0 L841.1,1039.9 L842.9,1049.1 L844.7,1046.4 L846.5,1043.2 L848.3,1045.4 L850.1,1037.7 L851.9,1038.3 L853.7,1041.3 L855.5,1040.4 L857.3,1037.0 L859.1,1040.8 L860.9,1034.0 L862.7,1036.1 L864.5,1034.4 L866.3,1030.5 L868.1,1034.8 L869.9,1036.1 L871.7,1033.1 L873.5,1032.5 L875.3,1035.2 L877.1,1028.6 L878.9,1027.6 L880.7,1029.1 L882.5,1027.3 L884.3,1032.5 L886.1,1029.3 L887.9,1025.8 L889.7,1026.0 L891.5,1033.2 L893.3,1024.4 L895.1,1022.9 L896.9,1024.5 L898.7,1024.5 L900.5,1022.8 L902.3,1019.6 L904.1,1018.4 L905.9,1021.2 L907.7,1019.0 L909.5,1014.6 L911.3,1019.6 L913.1,1017.9 L914.9,1014.7 L916.7,1014.0 L918.5,1014.2 L920.3,1011.2 L922.1,1009.0 L923.9,1011.5 L925.7,1007.3 L927.5,1010.3 L929.3,1005.6 L931.1,1007.3 L932.9,1006.1 L934.7,1008.2 L936.5,1002.5 L938.3,1001.1 L940.1,1001.5 L941.9,996.7 L943.7,998.0 L945.5,1000.5 L947.3,1000.1 L949.1,1000.5 L950.9,996.4 L952.7,1000.1 L954.5,997.3 L956.3,994.7 L958.1,991.4 L959.9,993.4 L961.7,992.9 L963.5,989.5 L965.3,991.6 L967.1,990.7 L968.9,989.6 L970.7,990.3 L972.5,990.1 L974.3,988.2 L976.1,988.3 L977.9,986.8 L979.7,986.1 L981.5,986.3 L983.3,986.1 L985.1,984.7 L986.9,982.9 L988.7,984.5 L990.5,982.4 L992.3,983.1 L994.1,983.8 L995.9,982.2 L997.7,981.0 L999.5,980.5 L1001.3,981.6 L1003.1,980.5 L1004.9,980.5 L1006.7,980.3 L1008.5,979.4 L1010.3,979.0 L1012.1,978.1 L1013.9,977.3 L1015.7,977.8 L1017.5,978.2 L1019.3,978.0 L1021.1,978.1 L1022.9,977.8 L1024.7,977.8 L1026.5,976.8 L1028.3,977.3 L1030.1,977.3 L1031.9,976.8 L1033.7,977.4" stroke="#00D08C"/>
<path d="M322.7,996.5 L324.5,992.4 L326.3,993.8 L328.1,995.0 L329.9,999.1 L331.7,994.7 L333.5,1000.5 L335.3,998.7 L337.1,996.3 L338.9,1002.5 L340.7,1004.7 L342.5,999.8 L344.3,991.5 L346.1,995.5 L347.9,1006.1 L349.7,995.2 L351.5,1000.7 L353.3,999.0 L355.1,999.7 L356.9,992.1 L358.7,993.1 L360.5,1002.2 L362.3,1002.3 L364.1,994.2 L365.9,999.9 L367.7,1001.5 L369.5,1005.3 L371.3,1002.4 L373.1,1010.4 L374.9,1006.8 L376.7,999.2 L378.5,1008.2 L380.3,1001.2 L382.1,995.4 L383.9,1000.7 L385.7,996.5 L387.5,998.3 L389.3,1000.5 L391.1,1007.0 L392.9,994.0 L394.7,1011.4 L396.5,1004.9 L398.3,1009.4 L400.1,1000.1 L401.9,997.4 L403.7,1000.2 L405.5,996.7 L407.3,997.3 L409.1,997.1 L410.9,994.7 L412.7,989.8 L414.5,988.2 L416.3,997.1 L418.1,992.1 L419.9,984.6 L421.7,986.3 L423.5,991.2 L425.3,982.5 L427.1,989.1 L428.9,991.8 L430.7,979.2 L432.5,983.4 L434.3,990.0 L436.1,982.3 L437.9,982.2 L439.7,985.0 L441.5,983.5 L443.3,980.4 L445.1,982.5 L446.9,987.3 L448.7,976.9 L450.5,983.4 L452.3,984.0 L454.1,985.1 L455.9,981.1 L457.7,970.9 L459.5,983.1 L461.3,973.5 L463.1,978.2 L464.9,989.4 L466.7,974.5 L468.5,974.4 L470.3,976.8 L472.1,979.0 L473.9,979.9 L475.7,979.4 L477.5,974.6 L479.3,980.0 L481.1,976.3 L482.9,970.3 L484.7,968.7 L486.5,974.4 L488.3,968.2 L490.1,976.2 L491.9,973.1 L493.7,966.5 L495.5,969.3 L497.3,971.3 L499.1,976.7 L500.9,982.4 L502.7,971.8 L504.5,974.8 L506.3,961.3 L508.1,970.4 L509.9,962.7 L511.7,965.8 L513.5,973.7 L515.3,967.3 L517.1,965.0 L518.9,969.4 L520.7,973.1 L522.5,964.5 L524.3,980.6 L526.1,962.6 L527.9,966.4 L529.7,969.9 L531.5,969.6 L533.3,966.0 L535.1,960.9 L536.9,960.2 L538.7,961.5 L540.5,973.4 L542.3,974.1 L544.1,954.9 L545.9,966.1 L547.7,955.3 L549.5,960.2 L551.3,951.6 L553.1,960.7 L554.9,962.2 L556.7,957.0 L558.5,964.2 L560.3,955.0 L562.1,955.0 L563.9,962.3 L565.7,968.2 L567.5,947.2 L569.3,969.6 L571.1,959.9 L572.9,956.1 L574.7,968.1 L576.5,967.1 L578.3,968.2 L580.1,966.9 L581.9,974.0 L583.7,973.1 L585.5,960.0 L587.3,959.5 L589.1,966.0 L590.9,967.0 L592.7,968.6 L594.5,969.9 L596.3,981.7 L598.1,968.9 L599.9,969.1 L601.7,974.3 L603.5,973.7 L605.3,981.0 L607.1,972.2 L608.9,972.4 L610.7,971.3 L612.5,970.2 L614.3,984.3 L616.1,986.3 L617.9,988.7 L619.7,985.5 L621.5,987.2 L623.3,983.7 L625.1,975.9 L626.9,983.0 L628.7,992.4 L630.5,993.9 L632.3,999.5 L634.1,982.6 L635.9,981.8 L637.7,990.2 L639.5,996.5 L641.3,998.9 L643.1,1000.3 L644.9,1005.2 L646.7,1000.6 L648.5,991.7 L650.3,1003.2 L652.1,995.6 L653.9,999.3 L655.7,1006.8 L657.5,991.9 L659.3,999.8 L661.1,1009.2 L662.9,1003.3 L664.7,1003.7 L666.5,1020.4 L668.3,1017.0 L670.1,1024.7 L671.9,1007.6 L673.7,1017.2 L675.5,1020.9 L677.3,1018.0 L679.1,1006.5 L680.9,1018.8 L682.7,1002.9 L684.5,1002.8 L686.3,1020.6 L688.1,1013.6 L689.9,1014.4 L691.7,1004.9 L693.5,1008.1 L695.3,990.6 L697.1,1008.0 L698.9,1006.5 L700.7,1006.8 L702.5,1015.1 L704.3,1010.5 L706.1,1009.8 L707.9,1001.9 L709.7,997.7 L711.5,1005.0 L713.3,1008.8 L715.1,1011.1 L716.9,1015.0 L718.7,1011.7 L720.5,1000.5 L722.3,1009.3 L724.1,1012.3 L725.9,1013.5 L727.7,1004.7 L729.5,1012.6 L731.3,998.3 L733.1,1011.7 L734.9,1004.9 L736.7,1005.0 L738.5,1011.1 L740.3,1012.0 L742.1,1001.3 L743.9,1017.9 L745.7,1016.3 L747.5,1026.3 L749.3,1020.4 L751.1,1001.4 L752.9,1004.4 L754.7,1019.1 L756.5,1026.5 L758.3,1011.7 L760.1,1023.6 L761.9,1022.2 L763.7,1017.1 L765.5,1021.7 L767.3,1025.1 L769.1,1017.4 L770.9,1041.8 L772.7,1019.3 L774.5,1031.2 L776.3,1021.0 L778.1,1023.1 L779.9,1024.6 L781.7,1026.8 L783.5,1026.5 L785.3,1024.7 L787.1,1021.4 L788.9,1020.1 L790.7,1028.0 L792.5,1036.2 L794.3,1040.0 L796.1,1036.8 L797.9,1045.5 L799.7,1040.7 L801.5,1032.4 L803.3,1044.4 L805.1,1048.6 L806.9,1042.5 L808.7,1040.4 L810.5,1035.8 L812.3,1033.1 L814.1,1037.2 L815.9,1026.2 L817.7,1043.9 L819.5,1034.7 L821.3,1029.7 L823.1,1036.8 L824.9,1025.8 L826.7,1027.2 L828.5,1020.1 L830.3,1031.2 L832.1,1034.7 L833.9,1034.6 L835.7,1039.1 L837.5,1020.9 L839.3,1026.8 L841.1,1034.3 L842.9,1027.0 L844.7,1024.6 L846.5,1023.8 L848.3,1037.7 L850.1,1028.0 L851.9,1023.0 L853.7,1024.6 L855.5,1026.6 L857.3,1039.1 L859.1,1023.5 L860.9,1029.4 L862.7,1022.7 L864.5,1018.2 L866.3,1023.6 L868.1,1031.1 L869.9,1019.6 L871.7,1022.9 L873.5,1022.1 L875.3,1024.9 L877.1,1009.4 L878.9,1023.4 L880.7,1023.5 L882.5,1020.9 L884.3,1019.9 L886.1,1038.0 L887.9,1024.1 L889.7,1016.5 L891.5,1007.5 L893.3,1032.6 L895.1,1027.0 L896.9,1011.5 L898.7,1017.1 L900.5,1019.8 L902.3,1016.3 L904.1,1021.3 L905.9,1023.9 L907.7,1021.4 L909.5,1023.9 L911.3,1021.5 L913.1,1018.7 L914.9,1015.0 L916.7,1013.0 L918.5,1004.5 L920.3,1004.0 L922.1,1012.0 L923.9,1005.6 L925.7,1005.7 L927.5,994.8 L929.3,1000.8 L931.1,1009.0 L932.9,997.7 L934.7,1000.5 L936.5,993.8 L938.3,998.7 L940.1,998.6 L941.9,1001.7 L943.7,999.3 L945.5,994.1 L947.3,992.3 L949.1,993.6 L950.9,993.7 L952.7,995.2 L954.5,994.4 L956.3,991.0 L958.1,989.6 L959.9,989.8 L961.7,989.9 L963.5,987.2 L965.3,992.6 L967.1,989.0 L968.9,984.1 L970.7,986.6 L972.5,989.1 L974.3,989.0 L976.1,985.6 L977.9,981.6 L979.7,984.2 L981.5,982.0 L983.3,987.1 L985.1,983.5 L986.9,981.0 L988.7,980.9 L990.5,979.6 L992.3,980.5 L994.1,983.7 L995.9,978.5 L997.7,980.3 L999.5,980.1 L1001.3,980.0 L1003.1,978.4 L1004.9,978.5 L1006.7,979.4 L1008.5,976.9 L1010.3,978.1 L1012.1,979.2 L1013.9,977.9 L1015.7,977.7 L1017.5,975.8 L1019.3,976.7 L1021.1,977.2 L1022.9,978.4 L1024.7,978.1 L1026.5,975.8 L1028.3,977.2 L1030.1,976.3 L1031.9,976.5 L1033.7,976.6" stroke="#2038FF"/>
<path d="M322.7,965.8 L324.5,969.6 L326.3,965.0 L328.1,964.5 L329.9,963.9 L331.7,963.1 L333.5,962.7 L335.3,962.6 L337.1,966.3 L338.9,964.8 L340.7,963.3 L342.5,969.9 L344.3,960.1 L346.1,960.6 L347.9,958.3 L349.7,958.1 L351.5,953.3 L353.3,955.9 L355.1,961.7 L356.9,956.8 L358.7,958.6 L360.5,958.8 L362.3,952.3 L364.1,952.7 L365.9,962.0 L367.7,955.4 L369.5,948.5 L371.3,947.9 L373.1,954.8 L374.9,946.4 L376.7,946.7 L378.5,955.2 L380.3,947.7 L382.1,950.0 L383.9,942.9 L385.7,948.1 L387.5,937.4 L389.3,950.8 L391.1,946.1 L392.9,942.0 L394.7,948.3 L396.5,950.9 L398.3,943.1 L400.1,944.3 L401.9,941.3 L403.7,943.8 L405.5,934.6 L407.3,937.3 L409.1,935.1 L410.9,939.5 L412.7,938.4 L414.5,943.5 L416.3,936.3 L418.1,932.0 L419.9,941.6 L421.7,940.0 L423.5,933.0 L425.3,932.6 L427.1,931.9 L428.9,930.3 L430.7,930.7 L432.5,934.9 L434.3,933.2 L436.1,935.8 L437.9,934.4 L439.7,926.5 L441.5,933.1 L443.3,926.6 L445.1,934.2 L446.9,935.2 L448.7,921.7 L450.5,931.9 L452.3,912.0 L454.1,921.4 L455.9,918.5 L457.7,915.6 L459.5,925.6 L461.3,924.1 L463.1,931.6 L464.9,919.9 L466.7,922.1 L468.5,903.7 L470.3,917.5 L472.1,909.7 L473.9,915.8 L475.7,920.5 L477.5,908.2 L479.3,925.0 L481.1,922.4 L482.9,928.7 L484.7,918.5 L486.5,909.8 L488.3,923.0 L490.1,916.9 L491.9,903.3 L493.7,914.5 L495.5,905.2 L497.3,891.4 L499.1,898.9 L500.9,878.9 L502.7,877.6 L504.5,897.1 L506.3,892.2 L508.1,903.3 L509.9,886.7 L511.7,901.0 L513.5,898.2 L515.3,866.9 L517.1,883.0 L518.9,881.2 L520.7,879.5 L522.5,875.7 L524.3,873.6 L526.1,884.7 L527.9,872.1 L529.7,870.2 L531.5,864.3 L533.3,861.7 L535.1,869.4 L536.9,860.9 L538.7,870.9 L540.5,864.5 L542.3,851.3 L544.1,852.4 L545.9,850.3 L547.7,854.0 L549.5,850.6 L551.3,847.4 L553.1,866.1 L554.9,858.7 L556.7,841.5 L558.5,859.4 L560.3,841.9 L562.1,827.4 L563.9,821.9 L565.7,820.9 L567.5,821.2 L569.3,825.1 L571.1,817.9 L572.9,832.2 L574.7,806.8 L576.5,824.0 L578.3,808.2 L580.1,813.0 L581.9,805.6 L583.7,818.4 L585.5,797.9 L587.3,792.0 L589.1,809.3 L590.9,804.3 L592.7,803.6 L594.5,784.0 L596.3,792.7 L598.1,785.2 L599.9,776.3 L601.7,796.2 L603.5,768.0 L605.3,788.7 L607.1,739.3 L608.9,769.0 L610.7,768.1 L612.5,775.8 L614.3,776.1 L616.1,769.2 L617.9,767.0 L619.7,755.0 L621.5,754.3 L623.3,757.1 L625.1,764.0 L626.9,761.3 L628.7,763.1 L630.5,768.0 L632.3,753.0 L634.1,753.4 L635.9,752.8 L637.7,728.7 L639.5,761.3 L641.3,753.9 L643.1,768.6 L644.9,745.5 L646.7,740.3 L648.5,721.5 L650.3,769.2 L652.1,753.2 L653.9,757.3 L655.7,756.8 L657.5,736.7 L659.3,742.3 L661.1,733.4 L662.9,742.2 L664.7,761.4 L666.5,747.3 L668.3,747.1 L670.1,736.8 L671.9,753.6 L673.7,741.4 L675.5,754.1 L677.3,747.8 L679.1,754.7 L680.9,761.6 L682.7,728.7 L684.5,730.0 L686.3,746.5 L688.1,738.4 L689.9,745.2 L691.7,743.9 L693.5,746.2 L695.3,751.3 L697.1,762.2 L698.9,726.3 L700.7,744.5 L702.5,747.0 L704.3,746.1 L706.1,744.5 L707.9,759.4 L709.7,741.4 L711.5,749.7 L713.3,741.9 L715.1,749.5 L716.9,741.8 L718.7,717.8 L720.5,733.3 L722.3,737.9 L724.1,735.3 L725.9,729.1 L727.7,728.0 L729.5,744.8 L731.3,745.6 L733.1,743.2 L734.9,745.0 L736.7,737.4 L738.5,739.1 L740.3,747.6 L742.1,748.3 L743.9,728.6 L745.7,747.6 L747.5,725.9 L749.3,728.2 L751.1,746.2 L752.9,711.0 L754.7,727.3 L756.5,732.0 L758.3,744.1 L760.1,744.8 L761.9,722.4 L763.7,737.4 L765.5,728.7 L767.3,707.5 L769.1,698.2 L770.9,714.4 L772.7,714.0 L774.5,719.8 L776.3,746.9 L778.1,729.3 L779.9,702.9 L781.7,732.1 L783.5,714.2 L785.3,733.2 L787.1,709.4 L788.9,732.2 L790.7,736.6 L792.5,730.0 L794.3,746.4 L796.1,724.6 L797.9,733.2 L799.7,735.3 L801.5,738.1 L803.3,757.4 L805.1,757.5 L806.9,749.7 L808.7,754.8 L810.5,746.1 L812.3,775.4 L814.1,778.3 L815.9,761.0 L817.7,753.2 L819.5,788.7 L821.3,763.9 L823.1,779.2 L824.9,784.3 L826.7,784.6 L828.5,789.0 L830.3,785.7 L832.1,801.2 L833.9,795.3 L835.7,812.0 L837.5,805.9 L839.3,810.0 L841.1,795.5 L842.9,812.6 L844.7,810.3 L846.5,805.7 L848.3,802.8 L850.1,815.9 L851.9,802.9 L853.7,818.5 L855.5,812.3 L857.3,811.6 L859.1,806.3 L860.9,803.2 L862.7,818.3 L864.5,803.0 L866.3,796.4 L868.1,805.2 L869.9,805.4 L871.7,818.7 L873.5,818.9 L875.3,808.4 L877.1,806.4 L878.9,825.0 L880.7,809.1 L882.5,804.5 L884.3,821.6 L886.1,810.8 L887.9,822.0 L889.7,828.0 L891.5,825.6 L893.3,818.2 L895.1,827.7 L896.9,817.2 L898.7,825.3 L900.5,832.0 L902.3,831.4 L904.1,839.3 L905.9,837.5 L907.7,837.9 L909.5,835.0 L911.3,844.8 L913.1,840.2 L914.9,844.8 L916.7,851.4 L918.5,852.8 L920.3,852.6 L922.1,853.7 L923.9,860.6 L925.7,852.6 L927.5,868.8 L929.3,873.5 L931.1,882.8 L932.9,878.9 L934.7,878.1 L936.5,893.4 L938.3,897.3 L940.1,900.0 L941.9,897.1 L943.7,908.1 L945.5,906.4 L947.3,912.3 L949.1,907.6 L950.9,917.3 L952.7,893.1 L954.5,921.3 L956.3,924.4 L958.1,924.5 L959.9,921.9 L961.7,921.5 L963.5,926.4 L965.3,930.4 L967.1,933.2 L968.9,934.9 L970.7,939.2 L972.5,935.8 L974.3,936.8 L976.1,937.6 L977.9,938.0 L979.7,944.2 L981.5,944.6 L983.3,943.8 L985.1,941.1 L986.9,950.6 L988.7,949.7 L990.5,950.4 L992.3,952.2 L994.1,955.5 L995.9,952.8 L997.7,954.8 L999.5,957.2 L1001.3,955.5 L1003.1,958.3 L1004.9,956.9 L1006.7,953.1 L1008.5,962.2 L1010.3,961.0 L1012.1,962.0 L1013.9,961.8 L1015.7,962.4 L1017.5,962.0 L1019.3,964.7 L1021.1,964.3 L1022.9,965.9 L1024.7,965.2 L1026.5,965.9 L1028.3,967.5 L1030.1,967.2 L1031.9,968.7 L1033.7,968.3" stroke="#A000C4"/>
</g>
<g clip-path="url(#cr)">
<path d="M1030.0,1001.8 L1031.8,1004.3 L1033.6,1000.2 L1035.4,1002.0 L1037.2,1003.6 L1039.0,1004.9 L1040.8,999.2 L1042.6,1007.7 L1044.4,1008.8 L1046.2,1005.6 L1048.0,1007.7 L1049.8,1008.0 L1051.6,1003.8 L1053.4,1003.5 L1055.2,1012.8 L1057.0,1012.2 L1058.8,1010.6 L1060.6,1010.2 L1062.4,1005.8 L1064.2,1007.1 L1066.0,1008.9 L1067.8,1006.6 L1069.6,1011.5 L1071.4,1008.3 L1073.2,1011.8 L1075.0,1009.7 L1076.8,1012.6 L1078.6,1016.2 L1080.4,1012.2 L1082.2,1013.0 L1084.0,1009.4 L1085.8,1013.0 L1087.6,1009.3 L1089.4,1018.6 L1091.2,1017.6 L1093.0,1015.5 L1094.8,1017.6 L1096.6,1016.9 L1098.4,1017.2 L1100.2,1016.7 L1102.0,1018.1 L1103.8,1019.0 L1105.6,1014.9 L1107.4,1021.8 L1109.2,1018.7 L1111.0,1017.5 L1112.8,1021.5 L1114.6,1020.9 L1116.4,1016.6 L1118.2,1025.8 L1120.0,1020.2 L1121.8,1018.3 L1123.6,1021.4 L1125.4,1022.5 L1127.2,1019.5 L1129.0,1019.3 L1130.8,1025.0 L1132.6,1020.4 L1134.4,1021.1 L1136.2,1024.2 L1138.0,1030.7 L1139.8,1032.3 L1141.6,1027.5 L1143.4,1027.0 L1145.2,1027.7 L1147.0,1019.5 L1148.8,1025.1 L1150.6,1031.4 L1152.4,1022.1 L1154.2,1031.1 L1156.0,1029.4 L1157.8,1035.2 L1159.6,1026.3 L1161.4,1033.9 L1163.2,1031.8 L1165.0,1034.6 L1166.8,1031.7 L1168.6,1034.7 L1170.4,1036.5 L1172.2,1035.1 L1174.0,1035.1 L1175.8,1034.2 L1177.6,1041.7 L1179.4,1040.5 L1181.2,1043.0 L1183.0,1041.1 L1184.8,1043.1 L1186.6,1043.3 L1188.4,1045.1 L1190.2,1038.6 L1192.0,1041.3 L1193.8,1045.4 L1195.6,1045.0 L1197.4,1049.2 L1199.2,1043.6 L1201.0,1053.9 L1202.8,1044.6 L1204.6,1046.6 L1206.4,1048.4 L1208.2,1052.5 L1210.0,1049.9 L1211.8,1052.3 L1213.6,1059.0 L1215.4,1053.1 L1217.2,1051.5 L1219.0,1053.9 L1220.8,1057.0 L1222.6,1056.7 L1224.4,1057.1 L1226.2,1066.5 L1228.0,1053.3 L1229.8,1066.5 L1231.6,1068.8 L1233.4,1063.7 L1235.2,1067.6 L1237.0,1073.4 L1238.8,1073.2 L1240.6,1074.2 L1242.4,1076.8 L1244.2,1076.2 L1246.0,1080.9 L1247.8,1087.9 L1249.6,1082.5 L1251.4,1086.0 L1253.2,1081.2 L1255.0,1082.6 L1256.8,1090.4 L1258.6,1084.3 L1260.4,1082.4 L1262.2,1088.1 L1264.0,1078.2 L1265.8,1082.6 L1267.6,1086.0 L1269.4,1083.1 L1271.2,1088.1 L1273.0,1087.6 L1274.8,1093.5 L1276.6,1087.7 L1278.4,1084.3 L1280.2,1093.5 L1282.0,1091.3 L1283.8,1088.4 L1285.6,1094.9 L1287.4,1090.0 L1289.2,1092.9 L1291.0,1096.2 L1292.8,1088.6 L1294.6,1094.7 L1296.4,1099.5 L1298.2,1091.3 L1300.0,1085.5 L1301.8,1095.1 L1303.6,1096.6 L1305.4,1109.0 L1307.2,1085.4 L1309.0,1086.0 L1310.8,1099.4 L1312.6,1097.0 L1314.4,1097.2 L1316.2,1101.4 L1318.0,1092.3 L1319.8,1097.9 L1321.6,1096.6 L1323.4,1101.5 L1325.2,1099.8 L1327.0,1093.6 L1328.8,1100.1 L1330.6,1094.2 L1332.4,1089.8 L1334.2,1098.9 L1336.0,1091.3 L1337.8,1092.1 L1339.6,1094.1 L1341.4,1093.0 L1343.2,1090.3 L1345.0,1091.9 L1346.8,1086.9 L1348.6,1090.7 L1350.4,1095.1 L1352.2,1099.7 L1354.0,1094.6 L1355.8,1087.5 L1357.6,1096.7 L1359.4,1087.4 L1361.2,1093.4 L1363.0,1091.3 L1364.8,1087.0 L1366.6,1094.4 L1368.4,1087.9 L1370.2,1087.2 L1372.0,1088.0 L1373.8,1087.3 L1375.6,1087.5 L1377.4,1087.8 L1379.2,1088.9 L1381.0,1084.4 L1382.8,1082.9 L1384.6,1080.3 L1386.4,1080.6 L1388.2,1089.4 L1390.0,1085.1 L1391.8,1090.1 L1393.6,1083.8 L1395.4,1085.0 L1397.2,1085.8 L1399.0,1093.2 L1400.8,1086.7 L1402.6,1092.0 L1404.4,1084.6 L1406.2,1094.4 L1408.0,1101.9 L1409.8,1093.9 L1411.6,1095.4 L1413.4,1091.6 L1415.2,1096.1 L1417.0,1095.4 L1418.8,1092.5 L1420.6,1105.7 L1422.4,1095.6 L1424.2,1105.2 L1426.0,1088.7 L1427.8,1103.4 L1429.6,1086.9 L1431.4,1096.3 L1433.2,1096.5 L1435.0,1097.1 L1436.8,1094.6 L1438.6,1101.5 L1440.4,1090.9 L1442.2,1106.0 L1444.0,1101.1 L1445.8,1106.6 L1447.6,1107.7 L1449.4,1102.9 L1451.2,1102.5 L1453.0,1098.4 L1454.8,1108.9 L1456.6,1099.0 L1458.4,1097.9 L1460.2,1102.7 L1462.0,1100.3 L1463.8,1096.9 L1465.6,1102.6 L1467.4,1098.4 L1469.2,1098.7 L1471.0,1113.3 L1472.8,1091.5 L1474.6,1094.8 L1476.4,1098.7 L1478.2,1094.0 L1480.0,1088.3 L1481.8,1089.8 L1483.6,1088.3 L1485.4,1091.6 L1487.2,1083.5 L1489.0,1091.3 L1490.8,1079.6 L1492.6,1091.2 L1494.4,1082.4 L1496.2,1083.8 L1498.0,1084.2 L1499.8,1071.2 L1501.6,1084.0 L1503.4,1076.7 L1505.2,1071.5 L1507.0,1076.1 L1508.8,1067.3 L1510.6,1072.1 L1512.4,1067.6 L1514.2,1071.0 L1516.0,1060.6 L1517.8,1057.7 L1519.6,1055.2 L1521.4,1051.5 L1523.2,1053.5 L1525.0,1048.2 L1526.8,1046.4 L1528.6,1043.3 L1530.4,1046.8 L1532.2,1037.3 L1534.0,1038.3 L1535.8,1037.5 L1537.6,1035.6 L1539.4,1031.5 L1541.2,1026.5 L1543.0,1030.1 L1544.8,1023.0 L1546.6,1025.6 L1548.4,1019.7 L1550.2,1016.9 L1552.0,1016.9 L1553.8,1009.6 L1555.6,1016.3 L1557.4,1011.5 L1559.2,1013.5 L1561.0,1011.4 L1562.8,1010.2 L1564.6,1008.2 L1566.4,1006.9 L1568.2,1010.4 L1570.0,1010.1 L1571.8,1011.4 L1573.6,1007.4 L1575.4,1007.0 L1577.2,1008.9 L1579.0,1006.5 L1580.8,1006.1 L1582.6,1004.8 L1584.4,1005.9 L1586.2,1004.4 L1588.0,1003.3 L1589.8,1003.9 L1591.6,1003.0 L1593.4,1002.7 L1595.2,1001.6 L1597.0,1002.9 L1598.8,999.8 L1600.6,999.3 L1602.4,1001.4 L1604.2,1002.3 L1606.0,1000.1 L1607.8,1002.5 L1609.6,997.5 L1611.4,996.6 L1613.2,998.0 L1615.0,997.7 L1616.8,994.6 L1618.6,995.4 L1620.4,994.6 L1622.2,993.5 L1624.0,993.6 L1625.8,992.4 L1627.6,992.8 L1629.4,993.2 L1631.2,989.7 L1633.0,990.4 L1634.8,991.0 L1636.6,990.1 L1638.4,987.1 L1640.2,988.9 L1642.0,991.2 L1643.8,988.9 L1645.6,986.5 L1647.4,988.2 L1649.2,987.4 L1651.0,987.8 L1652.8,986.9 L1654.6,985.1 L1656.4,985.3 L1658.2,984.9 L1660.0,984.0 L1661.8,984.1 L1663.6,984.3 L1665.4,983.1 L1667.2,981.7 L1669.0,983.0 L1670.8,982.6 L1672.6,981.6 L1674.4,980.8 L1676.2,981.2 L1678.0,981.6 L1679.8,981.8 L1681.6,980.6 L1683.4,980.2 L1685.2,980.6 L1687.0,980.8 L1688.8,979.6 L1690.6,979.3 L1692.4,978.8 L1694.2,979.0 L1696.0,979.4 L1697.8,979.2 L1699.6,979.3 L1701.4,978.3 L1703.2,978.0 L1705.0,978.8 L1706.8,978.0 L1708.6,976.8 L1710.4,976.6 L1712.2,977.2 L1714.0,977.0 L1715.8,976.7 L1717.6,976.3 L1719.4,976.8 L1721.2,976.6 L1723.0,976.1 L1724.8,975.7 L1726.6,976.4 L1728.4,976.4 L1730.2,976.2 L1732.0,976.2 L1733.8,975.8 L1735.6,976.0 L1737.4,976.2" stroke="#00D08C"/>
<path d="M1030.0,979.8 L1031.8,982.0 L1033.6,981.1 L1035.4,984.6 L1037.2,986.6 L1039.0,977.1 L1040.8,972.5 L1042.6,984.1 L1044.4,980.3 L1046.2,980.2 L1048.0,981.9 L1049.8,979.9 L1051.6,979.1 L1053.4,975.4 L1055.2,977.9 L1057.0,976.1 L1058.8,971.4 L1060.6,980.4 L1062.4,979.0 L1064.2,975.3 L1066.0,981.4 L1067.8,977.0 L1069.6,974.4 L1071.4,972.1 L1073.2,975.7 L1075.0,978.6 L1076.8,980.6 L1078.6,977.3 L1080.4,977.4 L1082.2,980.0 L1084.0,970.7 L1085.8,973.0 L1087.6,969.7 L1089.4,964.8 L1091.2,968.7 L1093.0,968.0 L1094.8,971.2 L1096.6,968.2 L1098.4,973.9 L1100.2,967.1 L1102.0,973.3 L1103.8,965.5 L1105.6,972.3 L1107.4,967.5 L1109.2,971.7 L1111.0,961.2 L1112.8,958.8 L1114.6,960.8 L1116.4,960.2 L1118.2,967.9 L1120.0,962.5 L1121.8,969.4 L1123.6,971.5 L1125.4,960.6 L1127.2,959.9 L1129.0,959.1 L1130.8,964.8 L1132.6,966.3 L1134.4,958.6 L1136.2,964.1 L1138.0,950.2 L1139.8,948.7 L1141.6,961.1 L1143.4,955.2 L1145.2,959.0 L1147.0,958.4 L1148.8,954.5 L1150.6,959.2 L1152.4,949.0 L1154.2,946.9 L1156.0,953.4 L1157.8,942.7 L1159.6,949.6 L1161.4,949.9 L1163.2,948.2 L1165.0,947.9 L1166.8,949.2 L1168.6,945.6 L1170.4,937.3 L1172.2,940.7 L1174.0,950.1 L1175.8,944.1 L1177.6,937.5 L1179.4,939.0 L1181.2,944.9 L1183.0,939.6 L1184.8,932.6 L1186.6,938.1 L1188.4,919.0 L1190.2,927.2 L1192.0,923.6 L1193.8,930.8 L1195.6,927.9 L1197.4,933.4 L1199.2,924.0 L1201.0,927.5 L1202.8,916.5 L1204.6,913.9 L1206.4,928.6 L1208.2,926.0 L1210.0,918.2 L1211.8,932.0 L1213.6,919.1 L1215.4,914.9 L1217.2,913.9 L1219.0,917.7 L1220.8,923.0 L1222.6,923.8 L1224.4,912.5 L1226.2,905.7 L1228.0,896.7 L1229.8,923.1 L1231.6,918.6 L1233.4,896.1 L1235.2,897.5 L1237.0,909.2 L1238.8,902.5 L1240.6,896.5 L1242.4,907.5 L1244.2,886.2 L1246.0,883.0 L1247.8,892.8 L1249.6,899.5 L1251.4,880.0 L1253.2,874.6 L1255.0,890.5 L1256.8,884.5 L1258.6,878.8 L1260.4,883.9 L1262.2,881.2 L1264.0,885.9 L1265.8,885.2 L1267.6,883.2 L1269.4,881.3 L1271.2,872.9 L1273.0,847.6 L1274.8,861.9 L1276.6,865.9 L1278.4,854.7 L1280.2,863.2 L1282.0,861.7 L1283.8,858.9 L1285.6,875.0 L1287.4,860.3 L1289.2,854.4 L1291.0,867.0 L1292.8,874.0 L1294.6,860.1 L1296.4,840.3 L1298.2,867.7 L1300.0,851.9 L1301.8,863.7 L1303.6,873.2 L1305.4,849.9 L1307.2,855.8 L1309.0,863.3 L1310.8,868.6 L1312.6,875.0 L1314.4,884.0 L1316.2,849.4 L1318.0,878.8 L1319.8,883.2 L1321.6,863.9 L1323.4,859.7 L1325.2,865.4 L1327.0,890.7 L1328.8,870.5 L1330.6,855.4 L1332.4,865.7 L1334.2,850.2 L1336.0,878.1 L1337.8,849.3 L1339.6,870.4 L1341.4,865.2 L1343.2,880.7 L1345.0,869.0 L1346.8,877.0 L1348.6,876.6 L1350.4,888.4 L1352.2,888.9 L1354.0,892.9 L1355.8,891.7 L1357.6,890.1 L1359.4,883.3 L1361.2,878.6 L1363.0,872.9 L1364.8,877.6 L1366.6,880.3 L1368.4,895.1 L1370.2,881.5 L1372.0,886.9 L1373.8,892.8 L1375.6,885.4 L1377.4,890.0 L1379.2,887.0 L1381.0,875.9 L1382.8,888.1 L1384.6,897.7 L1386.4,880.9 L1388.2,869.7 L1390.0,877.8 L1391.8,882.3 L1393.6,905.1 L1395.4,864.6 L1397.2,905.9 L1399.0,873.9 L1400.8,892.1 L1402.6,883.3 L1404.4,892.0 L1406.2,878.6 L1408.0,895.7 L1409.8,884.2 L1411.6,892.7 L1413.4,890.6 L1415.2,887.7 L1417.0,868.4 L1418.8,892.2 L1420.6,897.7 L1422.4,881.0 L1424.2,884.9 L1426.0,908.5 L1427.8,913.8 L1429.6,882.1 L1431.4,900.4 L1433.2,899.8 L1435.0,901.6 L1436.8,891.6 L1438.6,897.7 L1440.4,910.7 L1442.2,893.5 L1444.0,892.1 L1445.8,902.0 L1447.6,906.5 L1449.4,902.3 L1451.2,914.0 L1453.0,906.0 L1454.8,936.1 L1456.6,898.9 L1458.4,899.0 L1460.2,897.8 L1462.0,883.8 L1463.8,902.9 L1465.6,898.1 L1467.4,901.6 L1469.2,893.9 L1471.0,907.3 L1472.8,895.2 L1474.6,905.6 L1476.4,907.4 L1478.2,898.3 L1480.0,905.9 L1481.8,916.4 L1483.6,901.3 L1485.4,909.7 L1487.2,901.2 L1489.0,923.9 L1490.8,903.2 L1492.6,902.0 L1494.4,920.9 L1496.2,889.8 L1498.0,922.1 L1499.8,916.5 L1501.6,916.1 L1503.4,918.8 L1505.2,918.9 L1507.0,922.0 L1508.8,925.2 L1510.6,924.3 L1512.4,933.1 L1514.2,945.5 L1516.0,938.5 L1517.8,938.3 L1519.6,944.2 L1521.4,954.2 L1523.2,946.3 L1525.0,956.4 L1526.8,950.1 L1528.6,960.7 L1530.4,956.3 L1532.2,958.8 L1534.0,953.9 L1535.8,958.6 L1537.6,965.1 L1539.4,972.8 L1541.2,970.0 L1543.0,968.3 L1544.8,968.2 L1546.6,969.2 L1548.4,974.0 L1550.2,970.4 L1552.0,966.3 L1553.8,970.2 L1555.6,972.7 L1557.4,972.7 L1559.2,973.6 L1561.0,975.4 L1562.8,974.4 L1564.6,971.5 L1566.4,971.8 L1568.2,972.3 L1570.0,973.6 L1571.8,969.3 L1573.6,968.7 L1575.4,972.8 L1577.2,971.9 L1579.0,975.5 L1580.8,973.8 L1582.6,970.1 L1584.4,973.2 L1586.2,970.9 L1588.0,972.3 L1589.8,973.4 L1591.6,972.6 L1593.4,973.1 L1595.2,975.4 L1597.0,970.4 L1598.8,975.1 L1600.6,974.4 L1602.4,971.9 L1604.2,973.2 L1606.0,974.5 L1607.8,975.6 L1609.6,973.2 L1611.4,976.2 L1613.2,974.8 L1615.0,975.9 L1616.8,975.5 L1618.6,972.5 L1620.4,976.3 L1622.2,978.0 L1624.0,978.3 L1625.8,975.7 L1627.6,977.1 L1629.4,973.8 L1631.2,975.9 L1633.0,977.5 L1634.8,979.4 L1636.6,975.6 L1638.4,974.1 L1640.2,973.1 L1642.0,978.6 L1643.8,974.9 L1645.6,973.0 L1647.4,974.7 L1649.2,979.0 L1651.0,978.5 L1652.8,978.2 L1654.6,976.9 L1656.4,973.1 L1658.2,972.9 L1660.0,976.0 L1661.8,979.0 L1663.6,978.2 L1665.4,976.7 L1667.2,977.7 L1669.0,976.1 L1670.8,978.2 L1672.6,975.4 L1674.4,976.9 L1676.2,973.4 L1678.0,980.0 L1679.8,973.6 L1681.6,974.7 L1683.4,980.6 L1685.2,976.5 L1687.0,978.0 L1688.8,978.6 L1690.6,977.5 L1692.4,977.5 L1694.2,977.8 L1696.0,976.3 L1697.8,976.2 L1699.6,977.5 L1701.4,974.7 L1703.2,976.2 L1705.0,975.8 L1706.8,975.7 L1708.6,974.9 L1710.4,978.0 L1712.2,977.0 L1714.0,975.8 L1715.8,974.9 L1717.6,976.5 L1719.4,976.2 L1721.2,976.2 L1723.0,975.7 L1724.8,976.7 L1726.6,976.1 L1728.4,974.3 L1730.2,975.1 L1732.0,974.4 L1733.8,975.7 L1735.6,976.7 L1737.4,976.9" stroke="#2038FF"/>
<path d="M1030.0,971.7 L1031.8,967.7 L1033.6,974.0 L1035.4,965.9 L1037.2,972.5 L1039.0,966.1 L1040.8,967.6 L1042.6,973.2 L1044.4,972.2 L1046.2,972.2 L1048.0,970.4 L1049.8,967.7 L1051.6,970.2 L1053.4,969.7 L1055.2,967.9 L1057.0,967.3 L1058.8,969.3 L1060.6,964.6 L1062.4,964.7 L1064.2,966.1 L1066.0,963.2 L1067.8,963.6 L1069.6,955.6 L1071.4,961.8 L1073.2,960.3 L1075.0,964.3 L1076.8,953.8 L1078.6,955.6 L1080.4,951.4 L1082.2,946.3 L1084.0,957.3 L1085.8,960.7 L1087.6,958.3 L1089.4,946.0 L1091.2,947.6 L1093.0,947.6 L1094.8,957.3 L1096.6,952.4 L1098.4,946.8 L1100.2,946.6 L1102.0,947.4 L1103.8,940.7 L1105.6,946.3 L1107.4,939.5 L1109.2,944.1 L1111.0,946.0 L1112.8,943.1 L1114.6,937.9 L1116.4,938.9 L1118.2,943.6 L1120.0,928.1 L1121.8,932.7 L1123.6,937.2 L1125.4,935.5 L1127.2,936.2 L1129.0,937.0 L1130.8,934.7 L1132.6,934.6 L1134.4,939.2 L1136.2,933.5 L1138.0,937.2 L1139.8,932.1 L1141.6,928.6 L1143.4,930.9 L1145.2,921.1 L1147.0,922.0 L1148.8,930.8 L1150.6,923.4 L1152.4,916.8 L1154.2,918.9 L1156.0,926.0 L1157.8,916.4 L1159.6,929.0 L1161.4,921.9 L1163.2,909.8 L1165.0,915.8 L1166.8,911.6 L1168.6,919.6 L1170.4,917.6 L1172.2,910.1 L1174.0,907.7 L1175.8,913.0 L1177.6,904.6 L1179.4,914.9 L1181.2,900.0 L1183.0,904.3 L1184.8,888.0 L1186.6,902.0 L1188.4,894.3 L1190.2,899.0 L1192.0,902.3 L1193.8,892.7 L1195.6,875.6 L1197.4,878.1 L1199.2,892.5 L1201.0,885.6 L1202.8,881.5 L1204.6,895.4 L1206.4,884.8 L1208.2,893.5 L1210.0,891.5 L1211.8,880.2 L1213.6,882.7 L1215.4,870.7 L1217.2,880.9 L1219.0,875.9 L1220.8,887.5 L1222.6,879.6 L1224.4,869.1 L1226.2,880.1 L1228.0,868.3 L1229.8,866.4 L1231.6,870.4 L1233.4,870.6 L1235.2,850.6 L1237.0,849.3 L1238.8,858.3 L1240.6,863.7 L1242.4,848.9 L1244.2,832.0 L1246.0,842.3 L1247.8,839.9 L1249.6,838.3 L1251.4,837.8 L1253.2,838.1 L1255.0,838.3 L1256.8,833.7 L1258.6,821.3 L1260.4,817.4 L1262.2,811.0 L1264.0,807.2 L1265.8,795.7 L1267.6,808.7 L1269.4,808.0 L1271.2,810.9 L1273.0,816.7 L1274.8,799.9 L1276.6,800.5 L1278.4,804.2 L1280.2,796.6 L1282.0,782.5 L1283.8,773.7 L1285.6,786.9 L1287.4,766.1 L1289.2,775.1 L1291.0,760.1 L1292.8,785.5 L1294.6,756.1 L1296.4,784.3 L1298.2,773.3 L1300.0,779.0 L1301.8,776.3 L1303.6,767.7 L1305.4,757.4 L1307.2,782.5 L1309.0,752.7 L1310.8,757.7 L1312.6,740.9 L1314.4,753.6 L1316.2,757.0 L1318.0,741.9 L1319.8,748.8 L1321.6,743.5 L1323.4,742.0 L1325.2,750.5 L1327.0,751.9 L1328.8,733.2 L1330.6,721.1 L1332.4,744.2 L1334.2,727.3 L1336.0,733.0 L1337.8,728.4 L1339.6,746.6 L1341.4,758.4 L1343.2,727.3 L1345.0,755.5 L1346.8,732.3 L1348.6,724.3 L1350.4,737.7 L1352.2,744.5 L1354.0,719.5 L1355.8,716.3 L1357.6,738.1 L1359.4,726.2 L1361.2,685.4 L1363.0,713.8 L1364.8,708.1 L1366.6,711.1 L1368.4,720.2 L1370.2,713.5 L1372.0,713.8 L1373.8,741.5 L1375.6,702.7 L1377.4,722.0 L1379.2,727.6 L1381.0,704.6 L1382.8,707.6 L1384.6,706.9 L1386.4,728.4 L1388.2,710.9 L1390.0,724.4 L1391.8,705.5 L1393.6,705.8 L1395.4,724.5 L1397.2,729.4 L1399.0,706.8 L1400.8,712.4 L1402.6,727.8 L1404.4,715.6 L1406.2,715.4 L1408.0,717.0 L1409.8,733.2 L1411.6,701.8 L1413.4,750.1 L1415.2,765.1 L1417.0,742.9 L1418.8,727.2 L1420.6,722.2 L1422.4,734.7 L1424.2,717.3 L1426.0,737.9 L1427.8,723.8 L1429.6,742.6 L1431.4,737.8 L1433.2,725.7 L1435.0,727.8 L1436.8,721.1 L1438.6,731.3 L1440.4,735.7 L1442.2,728.4 L1444.0,722.8 L1445.8,727.0 L1447.6,739.7 L1449.4,735.2 L1451.2,730.2 L1453.0,717.7 L1454.8,718.7 L1456.6,728.8 L1458.4,720.5 L1460.2,716.8 L1462.0,738.4 L1463.8,725.2 L1465.6,727.6 L1467.4,718.2 L1469.2,727.8 L1471.0,732.3 L1472.8,727.8 L1474.6,759.2 L1476.4,719.8 L1478.2,731.1 L1480.0,729.7 L1481.8,738.1 L1483.6,726.6 L1485.4,729.7 L1487.2,741.2 L1489.0,730.9 L1490.8,741.4 L1492.6,715.3 L1494.4,723.5 L1496.2,743.6 L1498.0,744.1 L1499.8,745.0 L1501.6,749.0 L1503.4,753.3 L1505.2,736.8 L1507.0,765.3 L1508.8,761.6 L1510.6,745.5 L1512.4,746.5 L1514.2,766.2 L1516.0,759.7 L1517.8,774.2 L1519.6,768.6 L1521.4,762.4 L1523.2,772.6 L1525.0,781.1 L1526.8,788.3 L1528.6,799.6 L1530.4,791.2 L1532.2,804.2 L1534.0,801.8 L1535.8,807.9 L1537.6,793.1 L1539.4,810.0 L1541.2,804.8 L1543.0,848.4 L1544.8,828.9 L1546.6,825.1 L1548.4,839.3 L1550.2,826.8 L1552.0,831.5 L1553.8,823.1 L1555.6,828.7 L1557.4,818.9 L1559.2,824.3 L1561.0,834.4 L1562.8,826.8 L1564.6,825.4 L1566.4,827.6 L1568.2,832.8 L1570.0,839.6 L1571.8,806.5 L1573.6,830.1 L1575.4,829.9 L1577.2,829.2 L1579.0,831.1 L1580.8,835.7 L1582.6,841.5 L1584.4,821.1 L1586.2,825.4 L1588.0,836.2 L1589.8,825.9 L1591.6,841.2 L1593.4,833.3 L1595.2,840.1 L1597.0,833.9 L1598.8,836.8 L1600.6,863.2 L1602.4,844.1 L1604.2,857.7 L1606.0,849.2 L1607.8,854.5 L1609.6,846.7 L1611.4,832.5 L1613.2,851.2 L1615.0,837.4 L1616.8,841.5 L1618.6,859.1 L1620.4,866.6 L1622.2,859.6 L1624.0,860.2 L1625.8,865.9 L1627.6,882.1 L1629.4,862.5 L1631.2,880.7 L1633.0,885.4 L1634.8,874.7 L1636.6,881.1 L1638.4,888.1 L1640.2,891.4 L1642.0,903.4 L1643.8,902.6 L1645.6,903.2 L1647.4,909.9 L1649.2,916.6 L1651.0,912.2 L1652.8,911.9 L1654.6,921.5 L1656.4,926.2 L1658.2,927.4 L1660.0,926.3 L1661.8,924.2 L1663.6,929.4 L1665.4,930.3 L1667.2,932.0 L1669.0,931.5 L1670.8,936.1 L1672.6,936.8 L1674.4,931.9 L1676.2,939.1 L1678.0,935.4 L1679.8,939.7 L1681.6,940.1 L1683.4,942.6 L1685.2,941.3 L1687.0,942.8 L1688.8,943.6 L1690.6,944.6 L1692.4,940.5 L1694.2,948.8 L1696.0,947.5 L1697.8,950.2 L1699.6,950.4 L1701.4,952.4 L1703.2,953.6 L1705.0,951.1 L1706.8,954.0 L1708.6,955.5 L1710.4,954.9 L1712.2,955.8 L1714.0,957.9 L1715.8,959.8 L1717.6,959.6 L1719.4,960.5 L1721.2,961.0 L1723.0,963.2 L1724.8,962.1 L1726.6,963.5 L1728.4,965.7 L1730.2,964.4 L1732.0,964.7 L1733.8,964.4 L1735.6,965.0 L1737.4,967.6" stroke="#A000C4"/>
</g>
<g clip-path="url(#cl)">
<path d="M322.7,1515.9 L324.5,1515.1 L326.3,1518.3 L328.1,1517.9 L329.9,1514.5 L331.7,1515.4 L333.5,1514.8 L335.3,1520.1 L337.1,1514.8 L338.9,1516.6 L340.7,1516.3 L342.5,1514.9 L344.3,1518.2 L346.1,1516.5 L347.9,1519.2 L349.7,1513.2 L351.5,1518.2 L353.3,1522.3 L355.1,1519.3 L356.9,1517.4 L358.7,1519.7 L360.5,1515.1 L362.3,1519.0 L364.1,1518.9 L365.9,1519.2 L367.7,1519.2 L369.5,1519.7 L371.3,1516.9 L373.1,1517.4 L374.9,1516.4 L376.7,1519.9 L378.5,1514.7 L380.3,1518.6 L382.1,1517.1 L383.9,1519.8 L385.7,1524.7 L387.5,1518.6 L389.3,1522.3 L391.1,1523.2 L392.9,1517.4 L394.7,1519.7 L396.5,1521.1 L398.3,1518.3 L400.1,1519.4 L401.9,1520.4 L403.7,1521.4 L405.5,1520.3 L407.3,1524.3 L409.1,1523.1 L410.9,1512.2 L412.7,1523.2 L414.5,1518.8 L416.3,1519.7 L418.1,1520.1 L419.9,1524.5 L421.7,1527.8 L423.5,1523.4 L425.3,1522.4 L427.1,1523.3 L428.9,1526.1 L430.7,1522.0 L432.5,1524.6 L434.3,1529.2 L436.1,1531.0 L437.9,1528.7 L439.7,1528.9 L441.5,1528.5 L443.3,1528.0 L445.1,1522.3 L446.9,1530.9 L448.7,1537.2 L450.5,1530.4 L452.3,1536.9 L454.1,1533.3 L455.9,1531.4 L457.7,1535.0 L459.5,1531.6 L461.3,1536.0 L463.1,1537.8 L464.9,1532.5 L466.7,1539.2 L468.5,1538.1 L470.3,1538.1 L472.1,1541.3 L473.9,1539.3 L475.7,1535.8 L477.5,1541.3 L479.3,1543.5 L481.1,1539.4 L482.9,1540.3 L484.7,1541.1 L486.5,1541.0 L488.3,1541.6 L490.1,1548.3 L491.9,1550.6 L493.7,1543.7 L495.5,1549.3 L497.3,1550.0 L499.1,1555.4 L500.9,1558.2 L502.7,1557.5 L504.5,1561.3 L506.3,1561.2 L508.1,1561.5 L509.9,1562.2 L511.7,1565.4 L513.5,1560.6 L515.3,1558.8 L517.1,1577.1 L518.9,1568.0 L520.7,1571.9 L522.5,1566.3 L524.3,1562.9 L526.1,1569.4 L527.9,1574.4 L529.7,1566.9 L531.5,1570.2 L533.3,1571.9 L535.1,1566.8 L536.9,1578.5 L538.7,1572.7 L540.5,1582.1 L542.3,1575.1 L544.1,1570.5 L545.9,1575.3 L547.7,1575.6 L549.5,1577.7 L551.3,1580.8 L553.1,1581.0 L554.9,1590.5 L556.7,1574.9 L558.5,1580.8 L560.3,1586.5 L562.1,1589.4 L563.9,1588.1 L565.7,1588.6 L567.5,1590.9 L569.3,1589.4 L571.1,1588.8 L572.9,1592.4 L574.7,1585.4 L576.5,1592.1 L578.3,1589.6 L580.1,1594.2 L581.9,1592.3 L583.7,1599.3 L585.5,1596.6 L587.3,1596.3 L589.1,1592.7 L590.9,1598.7 L592.7,1587.7 L594.5,1601.3 L596.3,1601.1 L598.1,1598.8 L599.9,1601.1 L601.7,1592.7 L603.5,1596.6 L605.3,1594.9 L607.1,1601.8 L608.9,1602.1 L610.7,1606.4 L612.5,1596.2 L614.3,1597.4 L616.1,1603.6 L617.9,1599.5 L619.7,1599.6 L621.5,1605.2 L623.3,1602.3 L625.1,1599.6 L626.9,1606.2 L628.7,1593.4 L630.5,1594.6 L632.3,1599.2 L634.1,1600.0 L635.9,1597.1 L637.7,1599.9 L639.5,1600.8 L641.3,1602.7 L643.1,1603.7 L644.9,1598.7 L646.7,1601.4 L648.5,1600.0 L650.3,1591.7 L652.1,1605.4 L653.9,1595.8 L655.7,1594.0 L657.5,1602.1 L659.3,1599.2 L661.1,1593.8 L662.9,1603.1 L664.7,1603.8 L666.5,1597.4 L668.3,1596.5 L670.1,1605.8 L671.9,1606.1 L673.7,1607.0 L675.5,1602.6 L677.3,1608.7 L679.1,1613.0 L680.9,1609.9 L682.7,1610.4 L684.5,1613.3 L686.3,1611.4 L688.1,1610.4 L689.9,1613.3 L691.7,1617.5 L693.5,1616.4 L695.3,1619.7 L697.1,1616.1 L698.9,1618.9 L700.7,1614.7 L702.5,1626.2 L704.3,1625.4 L706.1,1620.7 L707.9,1628.9 L709.7,1624.1 L711.5,1631.0 L713.3,1639.0 L715.1,1632.0 L716.9,1633.5 L718.7,1630.8 L720.5,1634.8 L722.3,1632.6 L724.1,1638.5 L725.9,1627.8 L727.7,1646.9 L729.5,1637.1 L731.3,1638.3 L733.1,1645.2 L734.9,1645.2 L736.7,1633.3 L738.5,1635.9 L740.3,1647.1 L742.1,1642.5 L743.9,1640.8 L745.7,1649.4 L747.5,1653.6 L749.3,1649.1 L751.1,1644.2 L752.9,1646.4 L754.7,1648.2 L756.5,1650.9 L758.3,1654.6 L760.1,1643.4 L761.9,1648.1 L763.7,1657.9 L765.5,1653.1 L767.3,1649.5 L769.1,1653.3 L770.9,1657.4 L772.7,1652.3 L774.5,1656.7 L776.3,1651.4 L778.1,1643.2 L779.9,1649.9 L781.7,1650.8 L783.5,1646.0 L785.3,1646.6 L787.1,1651.4 L788.9,1646.8 L790.7,1638.7 L792.5,1635.7 L794.3,1640.7 L796.1,1637.9 L797.9,1628.2 L799.7,1629.7 L801.5,1627.9 L803.3,1629.0 L805.1,1625.9 L806.9,1628.4 L808.7,1614.8 L810.5,1608.5 L812.3,1611.7 L814.1,1613.1 L815.9,1603.1 L817.7,1601.4 L819.5,1603.2 L821.3,1600.0 L823.1,1602.2 L824.9,1594.4 L826.7,1601.8 L828.5,1594.2 L830.3,1591.9 L832.1,1583.2 L833.9,1586.2 L835.7,1588.0 L837.5,1580.1 L839.3,1584.3 L841.1,1579.8 L842.9,1579.0 L844.7,1575.5 L846.5,1575.6 L848.3,1566.7 L850.1,1569.8 L851.9,1567.8 L853.7,1567.8 L855.5,1565.1 L857.3,1561.5 L859.1,1564.4 L860.9,1562.9 L862.7,1561.1 L864.5,1562.0 L866.3,1557.8 L868.1,1559.5 L869.9,1558.1 L871.7,1553.3 L873.5,1556.6 L875.3,1553.7 L877.1,1554.6 L878.9,1552.8 L880.7,1556.3 L882.5,1554.2 L884.3,1547.5 L886.1,1551.1 L887.9,1550.3 L889.7,1552.1 L891.5,1553.7 L893.3,1551.9 L895.1,1547.5 L896.9,1546.1 L898.7,1550.2 L900.5,1548.9 L902.3,1550.2 L904.1,1548.9 L905.9,1547.3 L907.7,1548.8 L909.5,1545.7 L911.3,1545.1 L913.1,1541.8 L914.9,1538.9 L916.7,1543.3 L918.5,1537.0 L920.3,1535.2 L922.1,1535.5 L923.9,1535.2 L925.7,1534.0 L927.5,1531.7 L929.3,1532.8 L931.1,1530.7 L932.9,1529.7 L934.7,1526.8 L936.5,1525.3 L938.3,1527.6 L940.1,1525.3 L941.9,1526.2 L943.7,1527.0 L945.5,1524.6 L947.3,1521.3 L949.1,1522.3 L950.9,1520.5 L952.7,1520.9 L954.5,1520.8 L956.3,1518.9 L958.1,1519.2 L959.9,1518.1 L961.7,1518.0 L963.5,1517.8 L965.3,1516.6 L967.1,1517.2 L968.9,1516.8 L970.7,1514.6 L972.5,1514.7 L974.3,1514.4 L976.1,1512.6 L977.9,1513.0 L979.7,1514.2 L981.5,1513.4 L983.3,1512.6 L985.1,1510.7 L986.9,1512.5 L988.7,1510.8 L990.5,1512.0 L992.3,1510.5 L994.1,1510.3 L995.9,1509.6 L997.7,1510.1 L999.5,1509.2 L1001.3,1510.6 L1003.1,1508.8 L1004.9,1509.6 L1006.7,1509.5 L1008.5,1508.4 L1010.3,1508.3 L1012.1,1508.3 L1013.9,1509.2 L1015.7,1508.5 L1017.5,1508.9 L1019.3,1509.4 L1021.1,1510.2 L1022.9,1510.0 L1024.7,1510.2 L1026.5,1510.8 L1028.3,1510.3 L1030.1,1510.8 L1031.9,1511.6 L1033.7,1511.8" stroke="#00D08C"/>
<path d="M322.7,1536.4 L324.5,1534.6 L326.3,1537.3 L328.1,1532.1 L329.9,1533.5 L331.7,1526.8 L333.5,1530.4 L335.3,1540.2 L337.1,1540.6 L338.9,1539.0 L340.7,1533.6 L342.5,1533.8 L344.3,1542.9 L346.1,1541.2 L347.9,1531.7 L349.7,1541.9 L351.5,1543.8 L353.3,1537.7 L355.1,1541.7 L356.9,1540.0 L358.7,1548.6 L360.5,1540.1 L362.3,1539.9 L364.1,1534.9 L365.9,1527.3 L367.7,1535.7 L369.5,1544.0 L371.3,1549.8 L373.1,1543.6 L374.9,1541.2 L376.7,1535.7 L378.5,1543.0 L380.3,1534.7 L382.1,1539.8 L383.9,1534.5 L385.7,1541.6 L387.5,1546.1 L389.3,1542.4 L391.1,1537.8 L392.9,1560.3 L394.7,1556.2 L396.5,1541.0 L398.3,1556.3 L400.1,1546.0 L401.9,1546.3 L403.7,1541.8 L405.5,1544.3 L407.3,1554.6 L409.1,1554.0 L410.9,1553.3 L412.7,1545.9 L414.5,1549.5 L416.3,1556.8 L418.1,1551.5 L419.9,1556.9 L421.7,1540.1 L423.5,1542.1 L425.3,1542.1 L427.1,1548.7 L428.9,1545.1 L430.7,1546.2 L432.5,1546.5 L434.3,1534.1 L436.1,1556.5 L437.9,1529.3 L439.7,1549.7 L441.5,1547.2 L443.3,1551.8 L445.1,1554.2 L446.9,1547.2 L448.7,1560.2 L450.5,1541.0 L452.3,1538.3 L454.1,1539.7 L455.9,1539.0 L457.7,1546.5 L459.5,1556.2 L461.3,1550.4 L463.1,1544.9 L464.9,1556.4 L466.7,1552.0 L468.5,1548.9 L470.3,1553.6 L472.1,1551.7 L473.9,1554.2 L475.7,1540.7 L477.5,1552.5 L479.3,1547.9 L481.1,1544.6 L482.9,1557.8 L484.7,1550.4 L486.5,1537.2 L488.3,1544.1 L490.1,1555.3 L491.9,1556.7 L493.7,1569.1 L495.5,1553.6 L497.3,1543.4 L499.1,1546.9 L500.9,1551.8 L502.7,1540.0 L504.5,1539.4 L506.3,1554.9 L508.1,1556.6 L509.9,1571.4 L511.7,1532.1 L513.5,1557.2 L515.3,1565.0 L517.1,1545.3 L518.9,1577.6 L520.7,1557.0 L522.5,1551.1 L524.3,1549.6 L526.1,1557.2 L527.9,1535.0 L529.7,1556.7 L531.5,1549.9 L533.3,1557.9 L535.1,1552.8 L536.9,1548.8 L538.7,1571.0 L540.5,1563.6 L542.3,1549.4 L544.1,1558.8 L545.9,1576.2 L547.7,1549.6 L549.5,1562.6 L551.3,1564.8 L553.1,1557.5 L554.9,1557.6 L556.7,1586.4 L558.5,1569.1 L560.3,1565.2 L562.1,1574.6 L563.9,1560.2 L565.7,1557.9 L567.5,1572.6 L569.3,1572.3 L571.1,1560.2 L572.9,1552.9 L574.7,1568.3 L576.5,1553.4 L578.3,1578.9 L580.1,1561.0 L581.9,1577.3 L583.7,1570.4 L585.5,1564.2 L587.3,1558.6 L589.1,1570.5 L590.9,1562.0 L592.7,1570.0 L594.5,1576.7 L596.3,1566.1 L598.1,1577.9 L599.9,1580.2 L601.7,1580.7 L603.5,1575.8 L605.3,1580.9 L607.1,1591.7 L608.9,1581.0 L610.7,1579.5 L612.5,1593.0 L614.3,1591.1 L616.1,1590.2 L617.9,1605.4 L619.7,1590.3 L621.5,1614.7 L623.3,1569.5 L625.1,1600.5 L626.9,1595.8 L628.7,1582.2 L630.5,1595.7 L632.3,1598.2 L634.1,1579.9 L635.9,1600.8 L637.7,1610.4 L639.5,1585.1 L641.3,1582.2 L643.1,1607.5 L644.9,1584.0 L646.7,1583.6 L648.5,1598.3 L650.3,1618.4 L652.1,1575.0 L653.9,1596.0 L655.7,1586.7 L657.5,1595.0 L659.3,1586.2 L661.1,1585.3 L662.9,1597.1 L664.7,1598.0 L666.5,1616.3 L668.3,1611.1 L670.1,1586.4 L671.9,1592.5 L673.7,1589.8 L675.5,1599.3 L677.3,1596.9 L679.1,1610.4 L680.9,1602.8 L682.7,1588.5 L684.5,1600.9 L686.3,1610.8 L688.1,1609.0 L689.9,1612.1 L691.7,1598.4 L693.5,1592.1 L695.3,1596.5 L697.1,1590.7 L698.9,1552.4 L700.7,1592.3 L702.5,1593.1 L704.3,1584.9 L706.1,1588.6 L707.9,1587.5 L709.7,1574.4 L711.5,1596.6 L713.3,1596.9 L715.1,1603.8 L716.9,1586.6 L718.7,1593.6 L720.5,1586.7 L722.3,1578.9 L724.1,1588.6 L725.9,1593.0 L727.7,1589.7 L729.5,1591.0 L731.3,1593.6 L733.1,1601.3 L734.9,1601.5 L736.7,1602.3 L738.5,1604.4 L740.3,1598.0 L742.1,1607.4 L743.9,1597.9 L745.7,1601.4 L747.5,1590.6 L749.3,1588.8 L751.1,1600.6 L752.9,1600.0 L754.7,1619.2 L756.5,1594.6 L758.3,1611.7 L760.1,1596.6 L761.9,1608.3 L763.7,1602.2 L765.5,1598.7 L767.3,1595.8 L769.1,1591.1 L770.9,1599.5 L772.7,1599.0 L774.5,1589.6 L776.3,1586.9 L778.1,1597.7 L779.9,1581.1 L781.7,1588.2 L783.5,1578.5 L785.3,1584.1 L787.1,1586.8 L788.9,1579.8 L790.7,1592.2 L792.5,1594.9 L794.3,1598.8 L796.1,1584.1 L797.9,1573.6 L799.7,1583.0 L801.5,1604.3 L803.3,1596.5 L805.1,1596.9 L806.9,1588.9 L808.7,1579.9 L810.5,1582.9 L812.3,1578.8 L814.1,1596.2 L815.9,1589.2 L817.7,1584.8 L819.5,1576.0 L821.3,1580.4 L823.1,1576.5 L824.9,1566.0 L826.7,1566.0 L828.5,1578.7 L830.3,1579.0 L832.1,1570.3 L833.9,1571.8 L835.7,1562.1 L837.5,1581.6 L839.3,1570.7 L841.1,1568.6 L842.9,1569.9 L844.7,1573.8 L846.5,1569.8 L848.3,1559.1 L850.1,1568.1 L851.9,1568.5 L853.7,1564.2 L855.5,1576.8 L857.3,1561.3 L859.1,1556.6 L860.9,1565.4 L862.7,1563.1 L864.5,1565.0 L866.3,1577.7 L868.1,1571.2 L869.9,1566.5 L871.7,1572.6 L873.5,1563.6 L875.3,1569.6 L877.1,1560.4 L878.9,1564.4 L880.7,1570.1 L882.5,1555.5 L884.3,1557.6 L886.1,1560.6 L887.9,1561.6 L889.7,1554.6 L891.5,1572.5 L893.3,1562.3 L895.1,1559.6 L896.9,1560.0 L898.7,1553.4 L900.5,1557.7 L902.3,1561.0 L904.1,1545.8 L905.9,1562.2 L907.7,1556.7 L909.5,1552.8 L911.3,1536.4 L913.1,1553.0 L914.9,1537.5 L916.7,1540.1 L918.5,1542.0 L920.3,1543.5 L922.1,1538.5 L923.9,1536.2 L925.7,1531.8 L927.5,1537.1 L929.3,1543.3 L931.1,1540.2 L932.9,1535.0 L934.7,1539.2 L936.5,1531.5 L938.3,1527.8 L940.1,1537.8 L941.9,1528.7 L943.7,1528.8 L945.5,1524.9 L947.3,1531.7 L949.1,1531.5 L950.9,1531.8 L952.7,1521.8 L954.5,1528.7 L956.3,1523.6 L958.1,1526.5 L959.9,1519.7 L961.7,1517.5 L963.5,1521.7 L965.3,1521.7 L967.1,1522.4 L968.9,1522.8 L970.7,1521.5 L972.5,1515.2 L974.3,1520.9 L976.1,1519.4 L977.9,1513.8 L979.7,1513.3 L981.5,1514.5 L983.3,1514.9 L985.1,1514.0 L986.9,1512.6 L988.7,1514.8 L990.5,1513.1 L992.3,1511.9 L994.1,1510.9 L995.9,1511.3 L997.7,1510.2 L999.5,1508.9 L1001.3,1511.0 L1003.1,1508.0 L1004.9,1509.4 L1006.7,1510.4 L1008.5,1509.8 L1010.3,1510.9 L1012.1,1510.6 L1013.9,1510.1 L1015.7,1510.1 L1017.5,1510.8 L1019.3,1509.8 L1021.1,1510.8 L1022.9,1511.2 L1024.7,1512.7 L1026.5,1512.1 L1028.3,1513.2 L1030.1,1513.3 L1031.9,1512.8 L1033.7,1512.8" stroke="#2038FF"/>
<path d="M322.7,1487.0 L324.5,1484.3 L326.3,1484.7 L328.1,1488.6 L329.9,1495.7 L331.7,1494.0 L333.5,1489.7 L335.3,1495.7 L337.1,1486.5 L338.9,1490.3 L340.7,1486.4 L342.5,1484.6 L344.3,1492.3 L346.1,1489.2 L347.9,1484.7 L349.7,1483.9 L351.5,1482.9 L353.3,1483.6 L355.1,1478.8 L356.9,1475.2 L358.7,1477.6 L360.5,1488.5 L362.3,1488.9 L364.1,1480.3 L365.9,1480.8 L367.7,1482.9 L369.5,1476.8 L371.3,1473.4 L373.1,1467.7 L374.9,1481.9 L376.7,1476.5 L378.5,1476.1 L380.3,1468.1 L382.1,1480.8 L383.9,1475.4 L385.7,1469.3 L387.5,1467.0 L389.3,1475.4 L391.1,1470.0 L392.9,1457.2 L394.7,1466.1 L396.5,1457.4 L398.3,1458.3 L400.1,1468.3 L401.9,1463.0 L403.7,1463.0 L405.5,1461.1 L407.3,1448.7 L409.1,1450.5 L410.9,1452.4 L412.7,1455.6 L414.5,1455.0 L416.3,1458.0 L418.1,1452.1 L419.9,1443.4 L421.7,1447.8 L423.5,1445.0 L425.3,1448.7 L427.1,1443.5 L428.9,1447.4 L430.7,1453.6 L432.5,1440.4 L434.3,1442.3 L436.1,1433.9 L437.9,1440.0 L439.7,1451.5 L441.5,1436.5 L443.3,1432.1 L445.1,1435.0 L446.9,1424.8 L448.7,1437.9 L450.5,1438.0 L452.3,1436.4 L454.1,1430.2 L455.9,1433.6 L457.7,1428.0 L459.5,1427.5 L461.3,1420.8 L463.1,1423.4 L464.9,1424.0 L466.7,1417.7 L468.5,1423.2 L470.3,1425.4 L472.1,1408.6 L473.9,1408.1 L475.7,1411.2 L477.5,1423.7 L479.3,1419.6 L481.1,1415.0 L482.9,1398.7 L484.7,1412.9 L486.5,1408.7 L488.3,1390.5 L490.1,1391.1 L491.9,1393.1 L493.7,1397.4 L495.5,1386.6 L497.3,1397.7 L499.1,1386.0 L500.9,1405.8 L502.7,1388.8 L504.5,1376.7 L506.3,1375.7 L508.1,1388.4 L509.9,1375.8 L511.7,1367.5 L513.5,1386.8 L515.3,1373.9 L517.1,1373.1 L518.9,1369.5 L520.7,1383.3 L522.5,1372.5 L524.3,1366.3 L526.1,1370.0 L527.9,1361.7 L529.7,1353.3 L531.5,1335.9 L533.3,1363.7 L535.1,1378.3 L536.9,1345.0 L538.7,1352.7 L540.5,1367.0 L542.3,1346.9 L544.1,1336.7 L545.9,1323.6 L547.7,1325.6 L549.5,1334.4 L551.3,1334.9 L553.1,1333.4 L554.9,1324.6 L556.7,1341.4 L558.5,1317.7 L560.3,1330.8 L562.1,1335.7 L563.9,1325.8 L565.7,1323.4 L567.5,1302.5 L569.3,1317.4 L571.1,1331.2 L572.9,1316.7 L574.7,1318.1 L576.5,1319.2 L578.3,1314.0 L580.1,1290.9 L581.9,1312.5 L583.7,1275.9 L585.5,1287.4 L587.3,1292.3 L589.1,1303.7 L590.9,1295.3 L592.7,1304.5 L594.5,1305.4 L596.3,1286.0 L598.1,1313.1 L599.9,1294.1 L601.7,1278.4 L603.5,1289.3 L605.3,1295.6 L607.1,1295.8 L608.9,1278.4 L610.7,1271.7 L612.5,1283.9 L614.3,1266.5 L616.1,1286.9 L617.9,1269.9 L619.7,1259.8 L621.5,1282.4 L623.3,1254.8 L625.1,1292.4 L626.9,1258.0 L628.7,1263.6 L630.5,1263.1 L632.3,1249.3 L634.1,1272.5 L635.9,1253.1 L637.7,1269.8 L639.5,1276.4 L641.3,1259.9 L643.1,1271.7 L644.9,1258.9 L646.7,1266.9 L648.5,1271.1 L650.3,1274.7 L652.1,1277.5 L653.9,1270.6 L655.7,1283.0 L657.5,1275.4 L659.3,1276.6 L661.1,1267.9 L662.9,1277.1 L664.7,1269.5 L666.5,1255.9 L668.3,1249.4 L670.1,1278.7 L671.9,1259.1 L673.7,1264.3 L675.5,1266.7 L677.3,1251.3 L679.1,1277.2 L680.9,1260.3 L682.7,1245.8 L684.5,1270.7 L686.3,1276.4 L688.1,1278.5 L689.9,1278.4 L691.7,1265.2 L693.5,1303.5 L695.3,1304.8 L697.1,1261.8 L698.9,1276.1 L700.7,1287.0 L702.5,1275.9 L704.3,1273.2 L706.1,1307.1 L707.9,1290.5 L709.7,1284.3 L711.5,1292.1 L713.3,1266.9 L715.1,1282.2 L716.9,1275.1 L718.7,1289.8 L720.5,1294.3 L722.3,1286.5 L724.1,1296.3 L725.9,1264.9 L727.7,1287.4 L729.5,1305.5 L731.3,1303.8 L733.1,1286.0 L734.9,1298.0 L736.7,1300.7 L738.5,1297.8 L740.3,1284.8 L742.1,1301.9 L743.9,1280.6 L745.7,1296.1 L747.5,1319.5 L749.3,1296.1 L751.1,1296.1 L752.9,1302.6 L754.7,1302.9 L756.5,1313.8 L758.3,1295.8 L760.1,1296.7 L761.9,1294.2 L763.7,1290.5 L765.5,1294.8 L767.3,1288.2 L769.1,1299.5 L770.9,1305.6 L772.7,1326.5 L774.5,1324.9 L776.3,1305.3 L778.1,1305.9 L779.9,1297.4 L781.7,1316.8 L783.5,1318.4 L785.3,1323.8 L787.1,1313.8 L788.9,1306.6 L790.7,1313.4 L792.5,1323.5 L794.3,1311.5 L796.1,1327.4 L797.9,1331.3 L799.7,1336.1 L801.5,1331.9 L803.3,1343.7 L805.1,1339.1 L806.9,1354.2 L808.7,1345.1 L810.5,1347.5 L812.3,1339.7 L814.1,1351.5 L815.9,1360.0 L817.7,1372.9 L819.5,1365.1 L821.3,1361.5 L823.1,1364.9 L824.9,1375.2 L826.7,1364.2 L828.5,1377.0 L830.3,1373.4 L832.1,1374.6 L833.9,1386.2 L835.7,1383.2 L837.5,1393.4 L839.3,1382.8 L841.1,1393.0 L842.9,1386.8 L844.7,1386.2 L846.5,1394.3 L848.3,1403.1 L850.1,1405.5 L851.9,1399.1 L853.7,1402.7 L855.5,1397.0 L857.3,1399.9 L859.1,1397.5 L860.9,1409.3 L862.7,1402.2 L864.5,1405.6 L866.3,1392.9 L868.1,1409.8 L869.9,1408.4 L871.7,1397.6 L873.5,1408.9 L875.3,1402.2 L877.1,1398.4 L878.9,1397.5 L880.7,1404.0 L882.5,1411.4 L884.3,1403.4 L886.1,1406.7 L887.9,1385.5 L889.7,1405.9 L891.5,1409.9 L893.3,1421.6 L895.1,1415.9 L896.9,1417.2 L898.7,1414.1 L900.5,1419.3 L902.3,1423.3 L904.1,1428.8 L905.9,1431.8 L907.7,1426.2 L909.5,1435.6 L911.3,1428.3 L913.1,1431.8 L914.9,1436.4 L916.7,1433.7 L918.5,1453.3 L920.3,1436.0 L922.1,1446.2 L923.9,1445.3 L925.7,1443.1 L927.5,1443.5 L929.3,1441.6 L931.1,1454.4 L932.9,1455.9 L934.7,1454.4 L936.5,1456.2 L938.3,1458.6 L940.1,1459.7 L941.9,1462.5 L943.7,1459.8 L945.5,1470.2 L947.3,1465.2 L949.1,1464.9 L950.9,1476.3 L952.7,1473.1 L954.5,1472.1 L956.3,1476.8 L958.1,1477.5 L959.9,1476.3 L961.7,1479.4 L963.5,1481.9 L965.3,1479.9 L967.1,1482.3 L968.9,1482.9 L970.7,1485.0 L972.5,1484.8 L974.3,1484.2 L976.1,1485.9 L977.9,1487.8 L979.7,1489.2 L981.5,1492.4 L983.3,1491.5 L985.1,1490.8 L986.9,1491.5 L988.7,1491.1 L990.5,1492.8 L992.3,1496.9 L994.1,1493.9 L995.9,1494.7 L997.7,1495.2 L999.5,1497.4 L1001.3,1495.5 L1003.1,1494.7 L1004.9,1496.5 L1006.7,1497.1 L1008.5,1499.0 L1010.3,1496.5 L1012.1,1498.2 L1013.9,1498.4 L1015.7,1498.2 L1017.5,1499.7 L1019.3,1499.1 L1021.1,1498.9 L1022.9,1500.1 L1024.7,1499.1 L1026.5,1499.5 L1028.3,1500.3 L1030.1,1500.8 L1031.9,1500.1 L1033.7,1500.5" stroke="#A000C4"/>
</g>
<g clip-path="url(#cr)">
<path d="M1030.0,1531.1 L1031.8,1533.1 L1033.6,1530.4 L1035.4,1527.7 L1037.2,1532.5 L1039.0,1535.7 L1040.8,1533.8 L1042.6,1532.7 L1044.4,1533.8 L1046.2,1530.3 L1048.0,1533.0 L1049.8,1536.8 L1051.6,1539.6 L1053.4,1540.8 L1055.2,1536.8 L1057.0,1536.3 L1058.8,1535.9 L1060.6,1536.1 L1062.4,1539.2 L1064.2,1536.1 L1066.0,1542.2 L1067.8,1535.5 L1069.6,1543.7 L1071.4,1543.2 L1073.2,1539.7 L1075.0,1542.4 L1076.8,1541.6 L1078.6,1546.5 L1080.4,1545.3 L1082.2,1545.5 L1084.0,1541.4 L1085.8,1546.8 L1087.6,1543.3 L1089.4,1547.3 L1091.2,1549.7 L1093.0,1545.1 L1094.8,1543.7 L1096.6,1546.1 L1098.4,1551.5 L1100.2,1544.8 L1102.0,1548.0 L1103.8,1548.2 L1105.6,1552.8 L1107.4,1546.9 L1109.2,1548.3 L1111.0,1548.0 L1112.8,1548.7 L1114.6,1547.8 L1116.4,1549.1 L1118.2,1549.3 L1120.0,1552.2 L1121.8,1551.2 L1123.6,1552.8 L1125.4,1547.7 L1127.2,1555.8 L1129.0,1554.0 L1130.8,1558.3 L1132.6,1559.0 L1134.4,1553.2 L1136.2,1555.8 L1138.0,1554.1 L1139.8,1556.4 L1141.6,1558.0 L1143.4,1557.0 L1145.2,1557.1 L1147.0,1563.2 L1148.8,1554.1 L1150.6,1559.2 L1152.4,1557.3 L1154.2,1558.6 L1156.0,1560.3 L1157.8,1562.6 L1159.6,1558.7 L1161.4,1566.1 L1163.2,1562.2 L1165.0,1563.1 L1166.8,1561.4 L1168.6,1566.2 L1170.4,1561.9 L1172.2,1564.9 L1174.0,1570.1 L1175.8,1571.2 L1177.6,1564.3 L1179.4,1563.4 L1181.2,1577.7 L1183.0,1571.5 L1184.8,1571.3 L1186.6,1570.0 L1188.4,1572.1 L1190.2,1577.7 L1192.0,1572.8 L1193.8,1569.5 L1195.6,1575.7 L1197.4,1575.2 L1199.2,1574.6 L1201.0,1574.5 L1202.8,1574.2 L1204.6,1580.5 L1206.4,1577.9 L1208.2,1576.1 L1210.0,1575.4 L1211.8,1581.8 L1213.6,1581.3 L1215.4,1587.8 L1217.2,1584.3 L1219.0,1586.6 L1220.8,1589.8 L1222.6,1593.1 L1224.4,1585.1 L1226.2,1587.9 L1228.0,1583.9 L1229.8,1588.3 L1231.6,1586.2 L1233.4,1592.0 L1235.2,1588.1 L1237.0,1593.0 L1238.8,1591.5 L1240.6,1590.5 L1242.4,1597.7 L1244.2,1588.6 L1246.0,1604.1 L1247.8,1598.9 L1249.6,1594.8 L1251.4,1598.5 L1253.2,1598.5 L1255.0,1600.3 L1256.8,1606.7 L1258.6,1605.1 L1260.4,1600.7 L1262.2,1599.2 L1264.0,1606.8 L1265.8,1610.8 L1267.6,1601.2 L1269.4,1609.3 L1271.2,1612.0 L1273.0,1604.1 L1274.8,1621.2 L1276.6,1614.8 L1278.4,1619.8 L1280.2,1615.3 L1282.0,1622.5 L1283.8,1612.2 L1285.6,1616.6 L1287.4,1618.0 L1289.2,1620.0 L1291.0,1618.9 L1292.8,1612.0 L1294.6,1622.6 L1296.4,1626.3 L1298.2,1640.7 L1300.0,1619.6 L1301.8,1625.5 L1303.6,1631.1 L1305.4,1626.2 L1307.2,1620.7 L1309.0,1620.4 L1310.8,1623.9 L1312.6,1629.0 L1314.4,1623.0 L1316.2,1632.2 L1318.0,1624.3 L1319.8,1632.0 L1321.6,1633.2 L1323.4,1625.5 L1325.2,1634.4 L1327.0,1624.5 L1328.8,1614.2 L1330.6,1624.0 L1332.4,1625.7 L1334.2,1621.9 L1336.0,1627.9 L1337.8,1632.0 L1339.6,1628.5 L1341.4,1631.0 L1343.2,1634.7 L1345.0,1630.6 L1346.8,1633.3 L1348.6,1628.2 L1350.4,1622.3 L1352.2,1627.1 L1354.0,1620.9 L1355.8,1621.2 L1357.6,1619.5 L1359.4,1619.1 L1361.2,1607.4 L1363.0,1616.5 L1364.8,1611.2 L1366.6,1611.3 L1368.4,1617.0 L1370.2,1610.3 L1372.0,1621.4 L1373.8,1612.4 L1375.6,1620.1 L1377.4,1619.3 L1379.2,1614.1 L1381.0,1620.4 L1382.8,1603.0 L1384.6,1616.9 L1386.4,1615.1 L1388.2,1618.7 L1390.0,1621.5 L1391.8,1617.0 L1393.6,1614.0 L1395.4,1617.5 L1397.2,1618.5 L1399.0,1608.5 L1400.8,1619.3 L1402.6,1613.8 L1404.4,1623.0 L1406.2,1610.6 L1408.0,1613.1 L1409.8,1619.0 L1411.6,1611.6 L1413.4,1616.8 L1415.2,1611.4 L1417.0,1613.1 L1418.8,1612.4 L1420.6,1614.4 L1422.4,1623.0 L1424.2,1608.8 L1426.0,1616.8 L1427.8,1614.8 L1429.6,1617.6 L1431.4,1617.6 L1433.2,1619.1 L1435.0,1621.4 L1436.8,1629.4 L1438.6,1613.2 L1440.4,1618.8 L1442.2,1622.0 L1444.0,1625.5 L1445.8,1613.9 L1447.6,1629.1 L1449.4,1621.7 L1451.2,1629.8 L1453.0,1621.0 L1454.8,1617.1 L1456.6,1613.5 L1458.4,1616.5 L1460.2,1615.7 L1462.0,1607.3 L1463.8,1612.5 L1465.6,1610.0 L1467.4,1612.3 L1469.2,1605.2 L1471.0,1605.0 L1472.8,1605.8 L1474.6,1607.7 L1476.4,1602.5 L1478.2,1596.9 L1480.0,1598.3 L1481.8,1605.8 L1483.6,1603.6 L1485.4,1607.4 L1487.2,1600.8 L1489.0,1594.2 L1490.8,1594.7 L1492.6,1593.9 L1494.4,1598.2 L1496.2,1592.5 L1498.0,1586.9 L1499.8,1587.8 L1501.6,1585.0 L1503.4,1588.6 L1505.2,1585.7 L1507.0,1583.3 L1508.8,1577.9 L1510.6,1580.3 L1512.4,1579.4 L1514.2,1567.9 L1516.0,1569.2 L1517.8,1566.5 L1519.6,1561.9 L1521.4,1558.8 L1523.2,1557.0 L1525.0,1556.2 L1526.8,1554.0 L1528.6,1550.2 L1530.4,1545.8 L1532.2,1541.0 L1534.0,1540.4 L1535.8,1535.9 L1537.6,1542.3 L1539.4,1544.4 L1541.2,1540.4 L1543.0,1534.3 L1544.8,1537.0 L1546.6,1535.0 L1548.4,1530.7 L1550.2,1530.5 L1552.0,1531.9 L1553.8,1528.4 L1555.6,1529.1 L1557.4,1526.3 L1559.2,1524.5 L1561.0,1524.7 L1562.8,1526.5 L1564.6,1522.7 L1566.4,1523.8 L1568.2,1523.6 L1570.0,1523.0 L1571.8,1520.3 L1573.6,1520.6 L1575.4,1522.8 L1577.2,1516.1 L1579.0,1516.7 L1580.8,1516.5 L1582.6,1519.1 L1584.4,1515.0 L1586.2,1514.7 L1588.0,1516.6 L1589.8,1516.4 L1591.6,1515.6 L1593.4,1514.3 L1595.2,1512.0 L1597.0,1517.2 L1598.8,1514.7 L1600.6,1515.6 L1602.4,1514.4 L1604.2,1513.8 L1606.0,1513.4 L1607.8,1516.1 L1609.6,1516.9 L1611.4,1516.7 L1613.2,1512.9 L1615.0,1513.2 L1616.8,1513.3 L1618.6,1514.1 L1620.4,1514.2 L1622.2,1511.5 L1624.0,1512.2 L1625.8,1511.2 L1627.6,1510.9 L1629.4,1514.1 L1631.2,1511.1 L1633.0,1511.2 L1634.8,1511.5 L1636.6,1510.9 L1638.4,1511.7 L1640.2,1510.6 L1642.0,1509.4 L1643.8,1508.6 L1645.6,1508.8 L1647.4,1509.0 L1649.2,1508.3 L1651.0,1507.1 L1652.8,1507.3 L1654.6,1506.5 L1656.4,1508.1 L1658.2,1507.2 L1660.0,1505.7 L1661.8,1506.2 L1663.6,1505.9 L1665.4,1506.3 L1667.2,1506.0 L1669.0,1504.7 L1670.8,1507.1 L1672.6,1506.1 L1674.4,1507.4 L1676.2,1507.9 L1678.0,1506.9 L1679.8,1507.2 L1681.6,1507.7 L1683.4,1507.7 L1685.2,1508.1 L1687.0,1507.6 L1688.8,1509.5 L1690.6,1509.2 L1692.4,1508.1 L1694.2,1508.2 L1696.0,1509.2 L1697.8,1509.3 L1699.6,1508.9 L1701.4,1507.7 L1703.2,1509.7 L1705.0,1508.1 L1706.8,1508.8 L1708.6,1508.5 L1710.4,1508.4 L1712.2,1508.2 L1714.0,1508.3 L1715.8,1509.1 L1717.6,1509.6 L1719.4,1508.9 L1721.2,1509.2 L1723.0,1509.5 L1724.8,1509.8 L1726.6,1509.5 L1728.4,1510.3 L1730.2,1509.6 L1732.0,1510.3 L1733.8,1509.8 L1735.6,1511.0 L1737.4,1510.9" stroke="#00D08C"/>
<path d="M1030.0,1513.7 L1031.8,1516.7 L1033.6,1515.4 L1035.4,1515.1 L1037.2,1518.5 L1039.0,1510.9 L1040.8,1511.1 L1042.6,1520.3 L1044.4,1513.3 L1046.2,1510.8 L1048.0,1511.7 L1049.8,1517.9 L1051.6,1513.9 L1053.4,1518.5 L1055.2,1514.0 L1057.0,1514.4 L1058.8,1520.1 L1060.6,1520.4 L1062.4,1522.5 L1064.2,1519.9 L1066.0,1513.9 L1067.8,1515.3 L1069.6,1522.4 L1071.4,1523.7 L1073.2,1520.1 L1075.0,1513.2 L1076.8,1519.4 L1078.6,1521.0 L1080.4,1523.1 L1082.2,1515.0 L1084.0,1516.3 L1085.8,1519.6 L1087.6,1513.9 L1089.4,1517.8 L1091.2,1523.6 L1093.0,1517.1 L1094.8,1521.9 L1096.6,1513.3 L1098.4,1507.2 L1100.2,1509.2 L1102.0,1516.1 L1103.8,1516.2 L1105.6,1514.1 L1107.4,1510.7 L1109.2,1509.8 L1111.0,1508.4 L1112.8,1512.6 L1114.6,1514.8 L1116.4,1509.6 L1118.2,1510.8 L1120.0,1507.2 L1121.8,1500.2 L1123.6,1500.1 L1125.4,1507.7 L1127.2,1509.0 L1129.0,1511.3 L1130.8,1518.6 L1132.6,1509.9 L1134.4,1519.4 L1136.2,1505.0 L1138.0,1503.3 L1139.8,1505.0 L1141.6,1507.6 L1143.4,1508.4 L1145.2,1503.8 L1147.0,1496.0 L1148.8,1492.2 L1150.6,1499.9 L1152.4,1504.9 L1154.2,1501.1 L1156.0,1502.5 L1157.8,1504.7 L1159.6,1497.5 L1161.4,1497.6 L1163.2,1497.5 L1165.0,1490.3 L1166.8,1492.9 L1168.6,1496.0 L1170.4,1498.2 L1172.2,1494.7 L1174.0,1497.5 L1175.8,1488.4 L1177.6,1486.7 L1179.4,1482.9 L1181.2,1469.2 L1183.0,1501.1 L1184.8,1479.2 L1186.6,1484.8 L1188.4,1492.6 L1190.2,1487.2 L1192.0,1491.7 L1193.8,1489.1 L1195.6,1481.2 L1197.4,1471.4 L1199.2,1491.8 L1201.0,1482.3 L1202.8,1479.9 L1204.6,1478.4 L1206.4,1486.0 L1208.2,1494.8 L1210.0,1468.6 L1211.8,1482.2 L1213.6,1492.9 L1215.4,1486.5 L1217.2,1479.2 L1219.0,1488.9 L1220.8,1489.4 L1222.6,1480.8 L1224.4,1491.6 L1226.2,1487.9 L1228.0,1471.7 L1229.8,1495.4 L1231.6,1475.5 L1233.4,1477.2 L1235.2,1485.8 L1237.0,1479.5 L1238.8,1465.6 L1240.6,1486.6 L1242.4,1487.1 L1244.2,1473.6 L1246.0,1488.9 L1247.8,1476.1 L1249.6,1490.7 L1251.4,1482.9 L1253.2,1484.2 L1255.0,1486.6 L1256.8,1490.8 L1258.6,1487.8 L1260.4,1484.5 L1262.2,1485.7 L1264.0,1488.9 L1265.8,1480.7 L1267.6,1482.9 L1269.4,1487.8 L1271.2,1476.7 L1273.0,1476.0 L1274.8,1468.8 L1276.6,1468.5 L1278.4,1471.5 L1280.2,1474.4 L1282.0,1469.6 L1283.8,1480.8 L1285.6,1479.0 L1287.4,1489.7 L1289.2,1487.8 L1291.0,1486.9 L1292.8,1498.8 L1294.6,1485.4 L1296.4,1486.7 L1298.2,1481.4 L1300.0,1485.3 L1301.8,1465.2 L1303.6,1482.5 L1305.4,1485.8 L1307.2,1480.6 L1309.0,1484.2 L1310.8,1498.5 L1312.6,1497.2 L1314.4,1504.2 L1316.2,1501.3 L1318.0,1506.6 L1319.8,1495.0 L1321.6,1495.7 L1323.4,1509.5 L1325.2,1511.0 L1327.0,1511.4 L1328.8,1510.8 L1330.6,1518.3 L1332.4,1513.5 L1334.2,1506.9 L1336.0,1524.8 L1337.8,1526.4 L1339.6,1518.4 L1341.4,1525.8 L1343.2,1524.3 L1345.0,1520.5 L1346.8,1523.3 L1348.6,1527.7 L1350.4,1528.4 L1352.2,1525.0 L1354.0,1522.6 L1355.8,1524.4 L1357.6,1525.0 L1359.4,1525.4 L1361.2,1521.9 L1363.0,1527.5 L1364.8,1539.7 L1366.6,1530.3 L1368.4,1530.1 L1370.2,1537.1 L1372.0,1529.3 L1373.8,1547.5 L1375.6,1534.7 L1377.4,1554.4 L1379.2,1531.8 L1381.0,1531.4 L1382.8,1536.0 L1384.6,1543.0 L1386.4,1537.3 L1388.2,1537.0 L1390.0,1531.1 L1391.8,1521.6 L1393.6,1527.3 L1395.4,1544.6 L1397.2,1528.5 L1399.0,1538.7 L1400.8,1525.9 L1402.6,1533.8 L1404.4,1559.5 L1406.2,1534.1 L1408.0,1546.1 L1409.8,1527.5 L1411.6,1538.1 L1413.4,1531.8 L1415.2,1531.3 L1417.0,1545.2 L1418.8,1552.8 L1420.6,1554.8 L1422.4,1539.0 L1424.2,1541.0 L1426.0,1545.7 L1427.8,1548.2 L1429.6,1552.9 L1431.4,1542.2 L1433.2,1542.6 L1435.0,1533.7 L1436.8,1563.9 L1438.6,1555.2 L1440.4,1559.6 L1442.2,1561.7 L1444.0,1575.4 L1445.8,1545.9 L1447.6,1575.5 L1449.4,1579.4 L1451.2,1575.4 L1453.0,1581.8 L1454.8,1574.3 L1456.6,1574.0 L1458.4,1574.6 L1460.2,1571.7 L1462.0,1586.9 L1463.8,1564.4 L1465.6,1571.3 L1467.4,1568.2 L1469.2,1575.5 L1471.0,1573.5 L1472.8,1584.1 L1474.6,1582.3 L1476.4,1592.2 L1478.2,1585.5 L1480.0,1587.1 L1481.8,1590.6 L1483.6,1587.4 L1485.4,1599.3 L1487.2,1587.6 L1489.0,1612.1 L1490.8,1598.4 L1492.6,1597.6 L1494.4,1595.6 L1496.2,1600.6 L1498.0,1593.8 L1499.8,1608.3 L1501.6,1605.7 L1503.4,1613.7 L1505.2,1610.2 L1507.0,1611.4 L1508.8,1598.8 L1510.6,1613.4 L1512.4,1614.3 L1514.2,1610.7 L1516.0,1604.7 L1517.8,1598.1 L1519.6,1623.1 L1521.4,1607.0 L1523.2,1608.6 L1525.0,1608.5 L1526.8,1594.6 L1528.6,1605.0 L1530.4,1586.1 L1532.2,1587.8 L1534.0,1590.8 L1535.8,1593.8 L1537.6,1602.4 L1539.4,1587.9 L1541.2,1594.9 L1543.0,1611.8 L1544.8,1591.9 L1546.6,1603.4 L1548.4,1605.2 L1550.2,1586.7 L1552.0,1594.4 L1553.8,1595.0 L1555.6,1589.1 L1557.4,1588.1 L1559.2,1601.9 L1561.0,1598.3 L1562.8,1606.6 L1564.6,1594.1 L1566.4,1604.1 L1568.2,1602.6 L1570.0,1592.8 L1571.8,1600.7 L1573.6,1589.0 L1575.4,1602.1 L1577.2,1601.7 L1579.0,1602.3 L1580.8,1579.2 L1582.6,1592.2 L1584.4,1597.7 L1586.2,1592.8 L1588.0,1594.1 L1589.8,1597.4 L1591.6,1589.8 L1593.4,1588.3 L1595.2,1595.4 L1597.0,1598.3 L1598.8,1598.9 L1600.6,1591.0 L1602.4,1586.5 L1604.2,1583.8 L1606.0,1587.1 L1607.8,1596.5 L1609.6,1595.1 L1611.4,1596.7 L1613.2,1592.2 L1615.0,1584.7 L1616.8,1589.0 L1618.6,1583.5 L1620.4,1582.0 L1622.2,1572.2 L1624.0,1578.7 L1625.8,1563.6 L1627.6,1573.1 L1629.4,1573.4 L1631.2,1567.1 L1633.0,1568.5 L1634.8,1561.1 L1636.6,1559.3 L1638.4,1556.6 L1640.2,1555.4 L1642.0,1552.3 L1643.8,1558.3 L1645.6,1542.1 L1647.4,1548.3 L1649.2,1546.5 L1651.0,1547.7 L1652.8,1547.1 L1654.6,1546.6 L1656.4,1540.6 L1658.2,1545.0 L1660.0,1535.8 L1661.8,1536.0 L1663.6,1537.3 L1665.4,1535.2 L1667.2,1534.1 L1669.0,1531.2 L1670.8,1531.9 L1672.6,1534.0 L1674.4,1528.1 L1676.2,1527.3 L1678.0,1526.2 L1679.8,1529.0 L1681.6,1525.3 L1683.4,1530.4 L1685.2,1525.3 L1687.0,1521.4 L1688.8,1516.1 L1690.6,1520.9 L1692.4,1523.3 L1694.2,1525.5 L1696.0,1518.7 L1697.8,1520.8 L1699.6,1517.4 L1701.4,1516.0 L1703.2,1520.7 L1705.0,1518.8 L1706.8,1516.0 L1708.6,1513.2 L1710.4,1517.2 L1712.2,1512.6 L1714.0,1514.5 L1715.8,1513.0 L1717.6,1513.4 L1719.4,1513.8 L1721.2,1514.5 L1723.0,1515.5 L1724.8,1514.6 L1726.6,1514.1 L1728.4,1514.3 L1730.2,1511.2 L1732.0,1513.2 L1733.8,1513.8 L1735.6,1513.2 L1737.4,1512.7" stroke="#2038FF"/>
<path d="M1030.0,1490.4 L1031.8,1488.2 L1033.6,1488.8 L1035.4,1492.0 L1037.2,1489.5 L1039.0,1492.7 L1040.8,1490.0 L1042.6,1489.9 L1044.4,1491.1 L1046.2,1495.4 L1048.0,1493.0 L1049.8,1498.6 L1051.6,1494.4 L1053.4,1498.4 L1055.2,1492.2 L1057.0,1494.4 L1058.8,1496.5 L1060.6,1486.1 L1062.4,1491.1 L1064.2,1491.5 L1066.0,1484.3 L1067.8,1490.7 L1069.6,1485.8 L1071.4,1485.8 L1073.2,1487.7 L1075.0,1483.2 L1076.8,1481.6 L1078.6,1478.1 L1080.4,1482.1 L1082.2,1478.7 L1084.0,1478.0 L1085.8,1481.3 L1087.6,1472.6 L1089.4,1486.3 L1091.2,1472.9 L1093.0,1481.2 L1094.8,1472.7 L1096.6,1468.1 L1098.4,1480.2 L1100.2,1475.9 L1102.0,1475.6 L1103.8,1469.2 L1105.6,1473.8 L1107.4,1463.4 L1109.2,1468.2 L1111.0,1456.6 L1112.8,1464.8 L1114.6,1459.1 L1116.4,1464.9 L1118.2,1462.8 L1120.0,1461.6 L1121.8,1457.7 L1123.6,1462.2 L1125.4,1463.4 L1127.2,1456.1 L1129.0,1456.2 L1130.8,1460.9 L1132.6,1463.1 L1134.4,1455.0 L1136.2,1464.9 L1138.0,1463.1 L1139.8,1459.4 L1141.6,1458.9 L1143.4,1459.4 L1145.2,1458.6 L1147.0,1445.7 L1148.8,1449.5 L1150.6,1445.2 L1152.4,1457.1 L1154.2,1459.4 L1156.0,1449.8 L1157.8,1449.7 L1159.6,1444.5 L1161.4,1446.7 L1163.2,1440.1 L1165.0,1442.6 L1166.8,1434.3 L1168.6,1441.3 L1170.4,1435.9 L1172.2,1443.3 L1174.0,1430.8 L1175.8,1439.6 L1177.6,1431.8 L1179.4,1428.2 L1181.2,1432.0 L1183.0,1422.9 L1184.8,1425.8 L1186.6,1426.3 L1188.4,1419.8 L1190.2,1427.4 L1192.0,1433.1 L1193.8,1422.1 L1195.6,1423.3 L1197.4,1420.3 L1199.2,1423.0 L1201.0,1429.8 L1202.8,1420.9 L1204.6,1419.4 L1206.4,1416.4 L1208.2,1417.8 L1210.0,1405.1 L1211.8,1417.4 L1213.6,1409.7 L1215.4,1402.3 L1217.2,1404.7 L1219.0,1407.3 L1220.8,1391.7 L1222.6,1407.6 L1224.4,1397.4 L1226.2,1404.2 L1228.0,1398.8 L1229.8,1404.1 L1231.6,1379.5 L1233.4,1391.1 L1235.2,1387.0 L1237.0,1390.4 L1238.8,1389.0 L1240.6,1398.5 L1242.4,1374.5 L1244.2,1369.6 L1246.0,1386.2 L1247.8,1387.9 L1249.6,1383.2 L1251.4,1366.8 L1253.2,1377.7 L1255.0,1357.9 L1256.8,1368.6 L1258.6,1370.6 L1260.4,1343.9 L1262.2,1371.3 L1264.0,1355.4 L1265.8,1374.8 L1267.6,1359.1 L1269.4,1346.6 L1271.2,1364.3 L1273.0,1353.5 L1274.8,1350.2 L1276.6,1351.7 L1278.4,1369.1 L1280.2,1334.9 L1282.0,1351.2 L1283.8,1346.7 L1285.6,1332.9 L1287.4,1361.6 L1289.2,1364.3 L1291.0,1344.5 L1292.8,1353.1 L1294.6,1326.0 L1296.4,1348.9 L1298.2,1352.5 L1300.0,1337.8 L1301.8,1335.0 L1303.6,1312.4 L1305.4,1330.6 L1307.2,1328.7 L1309.0,1322.3 L1310.8,1320.6 L1312.6,1328.3 L1314.4,1328.3 L1316.2,1315.0 L1318.0,1310.9 L1319.8,1314.1 L1321.6,1323.5 L1323.4,1314.5 L1325.2,1301.5 L1327.0,1303.7 L1328.8,1285.4 L1330.6,1320.7 L1332.4,1304.2 L1334.2,1303.4 L1336.0,1303.9 L1337.8,1297.7 L1339.6,1319.8 L1341.4,1298.2 L1343.2,1295.4 L1345.0,1314.5 L1346.8,1297.9 L1348.6,1289.2 L1350.4,1289.8 L1352.2,1292.9 L1354.0,1311.9 L1355.8,1298.7 L1357.6,1288.7 L1359.4,1285.0 L1361.2,1299.3 L1363.0,1295.0 L1364.8,1294.9 L1366.6,1306.5 L1368.4,1277.9 L1370.2,1279.9 L1372.0,1310.3 L1373.8,1300.1 L1375.6,1299.7 L1377.4,1300.0 L1379.2,1290.2 L1381.0,1304.1 L1382.8,1290.3 L1384.6,1289.0 L1386.4,1284.1 L1388.2,1294.6 L1390.0,1295.4 L1391.8,1275.2 L1393.6,1300.3 L1395.4,1284.3 L1397.2,1300.6 L1399.0,1297.8 L1400.8,1311.5 L1402.6,1312.9 L1404.4,1292.5 L1406.2,1309.4 L1408.0,1299.1 L1409.8,1322.5 L1411.6,1305.0 L1413.4,1312.0 L1415.2,1337.3 L1417.0,1317.9 L1418.8,1302.2 L1420.6,1302.1 L1422.4,1314.6 L1424.2,1319.9 L1426.0,1341.3 L1427.8,1300.9 L1429.6,1305.8 L1431.4,1321.9 L1433.2,1313.2 L1435.0,1311.2 L1436.8,1336.0 L1438.6,1328.3 L1440.4,1326.9 L1442.2,1311.7 L1444.0,1330.9 L1445.8,1316.4 L1447.6,1321.1 L1449.4,1332.3 L1451.2,1324.6 L1453.0,1334.3 L1454.8,1308.6 L1456.6,1329.2 L1458.4,1329.2 L1460.2,1321.3 L1462.0,1305.1 L1463.8,1309.7 L1465.6,1311.1 L1467.4,1337.1 L1469.2,1334.2 L1471.0,1343.6 L1472.8,1331.9 L1474.6,1346.3 L1476.4,1343.2 L1478.2,1339.9 L1480.0,1323.4 L1481.8,1331.2 L1483.6,1350.6 L1485.4,1340.2 L1487.2,1326.9 L1489.0,1335.0 L1490.8,1348.4 L1492.6,1347.4 L1494.4,1336.6 L1496.2,1346.2 L1498.0,1357.0 L1499.8,1334.0 L1501.6,1348.9 L1503.4,1361.3 L1505.2,1362.7 L1507.0,1356.7 L1508.8,1370.1 L1510.6,1367.6 L1512.4,1375.4 L1514.2,1386.7 L1516.0,1382.1 L1517.8,1376.6 L1519.6,1389.3 L1521.4,1387.4 L1523.2,1380.4 L1525.0,1391.8 L1526.8,1394.5 L1528.6,1388.9 L1530.4,1401.8 L1532.2,1403.4 L1534.0,1385.7 L1535.8,1388.8 L1537.6,1401.2 L1539.4,1395.8 L1541.2,1399.8 L1543.0,1393.1 L1544.8,1405.4 L1546.6,1403.0 L1548.4,1396.9 L1550.2,1406.6 L1552.0,1415.4 L1553.8,1407.2 L1555.6,1412.5 L1557.4,1406.7 L1559.2,1407.9 L1561.0,1412.3 L1562.8,1405.7 L1564.6,1420.7 L1566.4,1422.8 L1568.2,1436.6 L1570.0,1426.9 L1571.8,1430.1 L1573.6,1426.6 L1575.4,1421.7 L1577.2,1430.0 L1579.0,1435.2 L1580.8,1426.0 L1582.6,1435.5 L1584.4,1428.3 L1586.2,1430.6 L1588.0,1432.0 L1589.8,1423.0 L1591.6,1426.0 L1593.4,1435.3 L1595.2,1425.6 L1597.0,1419.1 L1598.8,1432.3 L1600.6,1429.1 L1602.4,1425.9 L1604.2,1439.2 L1606.0,1436.7 L1607.8,1429.1 L1609.6,1441.5 L1611.4,1437.2 L1613.2,1446.2 L1615.0,1440.1 L1616.8,1445.7 L1618.6,1440.6 L1620.4,1450.3 L1622.2,1438.2 L1624.0,1438.9 L1625.8,1440.9 L1627.6,1454.1 L1629.4,1447.0 L1631.2,1455.7 L1633.0,1451.8 L1634.8,1456.0 L1636.6,1459.8 L1638.4,1465.2 L1640.2,1467.6 L1642.0,1467.4 L1643.8,1472.8 L1645.6,1474.3 L1647.4,1469.8 L1649.2,1470.7 L1651.0,1473.1 L1652.8,1473.7 L1654.6,1474.4 L1656.4,1470.8 L1658.2,1478.6 L1660.0,1478.9 L1661.8,1473.4 L1663.6,1481.2 L1665.4,1482.8 L1667.2,1483.2 L1669.0,1490.9 L1670.8,1486.6 L1672.6,1484.0 L1674.4,1484.1 L1676.2,1485.2 L1678.0,1485.3 L1679.8,1484.3 L1681.6,1489.5 L1683.4,1490.8 L1685.2,1493.6 L1687.0,1492.9 L1688.8,1497.0 L1690.6,1494.7 L1692.4,1495.1 L1694.2,1494.1 L1696.0,1496.8 L1697.8,1496.2 L1699.6,1499.0 L1701.4,1495.2 L1703.2,1497.7 L1705.0,1497.1 L1706.8,1497.1 L1708.6,1498.3 L1710.4,1496.7 L1712.2,1496.2 L1714.0,1496.7 L1715.8,1497.0 L1717.6,1499.8 L1719.4,1500.2 L1721.2,1500.0 L1723.0,1500.6 L1724.8,1500.0 L1726.6,1500.9 L1728.4,1501.3 L1730.2,1502.4 L1732.0,1501.3 L1733.8,1501.8 L1735.6,1502.3 L1737.4,1503.4" stroke="#A000C4"/>
</g>
</g>
<text x="202.5" y="727.9" font-size="68.29" textLength="92.2" lengthAdjust="spacingAndGlyphs">1.0</text>
<text x="202.5" y="860.5" font-size="68.29" textLength="92.2" lengthAdjust="spacingAndGlyphs">0.5</text>
<text x="202.5" y="993.1" font-size="68.29" textLength="92.2" lengthAdjust="spacingAndGlyphs">0.0</text>
<text x="180.5" y="1125.8" font-size="68.29" textLength="114.2" lengthAdjust="spacingAndGlyphs">-0.5</text>
<text x="202.5" y="1260.0" font-size="68.29" textLength="92.2" lengthAdjust="spacingAndGlyphs">1.0</text>
<text x="202.5" y="1392.7" font-size="68.29" textLength="92.2" lengthAdjust="spacingAndGlyphs">0.5</text>
<text x="202.5" y="1525.3" font-size="68.29" textLength="92.2" lengthAdjust="spacingAndGlyphs">0.0</text>
<text x="180.5" y="1658.0" font-size="68.29" textLength="114.2" lengthAdjust="spacingAndGlyphs">-0.5</text>
<text x="502.9" y="1798" font-size="68.29" textLength="110.6" lengthAdjust="spacingAndGlyphs">700</text>
<text x="741.7" y="1798" font-size="68.29" textLength="110.6" lengthAdjust="spacingAndGlyphs">750</text>
<text x="1210.4" y="1798" font-size="68.29" textLength="110.6" lengthAdjust="spacingAndGlyphs">700</text>
<text x="1449.2" y="1798" font-size="68.29" textLength="110.6" lengthAdjust="spacingAndGlyphs">750</text>
<text x="654.8" y="1915.3" font-size="93.73" textLength="703.3" lengthAdjust="spacingAndGlyphs">Wavelength [nm]</text>
<g transform="translate(128,0) rotate(-90)"><text x="-1378.3" y="0" font-size="93.73"><tspan font-family='"Liberation Serif", "Times New Roman", serif'>Δ</tspan><tspan dx="-4.7"> [arb. u.]</tspan></text></g>
<text x="350.0" y="713.8" font-size="51.50" textLength="224.5" lengthAdjust="spacingAndGlyphs">L=130 nm</text>
<text x="350.0" y="761.8" font-size="51.50" textLength="221.6" lengthAdjust="spacingAndGlyphs">y=300 nm</text>
<text x="350.0" y="809.8" font-size="51.50" textLength="196.6" lengthAdjust="spacingAndGlyphs">b=80 nm</text>
<text x="1058.0" y="713.8" font-size="51.50" textLength="224.5" lengthAdjust="spacingAndGlyphs">L=120 nm</text>
<text x="1058.0" y="761.8" font-size="51.50" textLength="221.6" lengthAdjust="spacingAndGlyphs">y=300 nm</text>
<text x="1058.0" y="809.8" font-size="51.50" textLength="196.6" lengthAdjust="spacingAndGlyphs">b=80 nm</text>
<text x="350.0" y="1245.6" font-size="51.50" textLength="224.5" lengthAdjust="spacingAndGlyphs">L=130 nm</text>
<text x="350.0" y="1293.6" font-size="51.50" textLength="221.6" lengthAdjust="spacingAndGlyphs">y=350 nm</text>
<text x="350.0" y="1341.7" font-size="51.50" textLength="196.6" lengthAdjust="spacingAndGlyphs">b=80 nm</text>
<text x="1058.2" y="1245.6" font-size="51.50" textLength="224.5" lengthAdjust="spacingAndGlyphs">L=130 nm</text>
<text x="1058.2" y="1293.6" font-size="51.50" textLength="221.6" lengthAdjust="spacingAndGlyphs">y=400 nm</text>
<text x="1058.2" y="1341.7" font-size="51.50" textLength="196.6" lengthAdjust="spacingAndGlyphs">b=80 nm</text>
<text x="599.6" y="847.3" font-size="37.49" textLength="251.0" lengthAdjust="spacingAndGlyphs" fill="#A000C4">after Annealing</text>
<text x="611.9" y="956.9" font-size="37.49" textLength="287.3" lengthAdjust="spacingAndGlyphs" fill="#2038FF">before Annealing</text>
<text x="842.4" y="1096.3" font-size="37.49" textLength="110.4" lengthAdjust="spacingAndGlyphs" fill="#00D08C">before</text>
<text x="812.1" y="1137.2" font-size="37.49" textLength="194.7" lengthAdjust="spacingAndGlyphs" fill="#00D08C">Overgrowth</text>
<text><tspan x="811.1" y="736.6" font-size="67.00" font-family='"Liberation Serif", "Times New Roman", serif'>Δ</tspan><tspan x="852.8" y="738.5" font-size="65.92">=</tspan><tspan x="889.8" y="738.8" font-size="66.95">I</tspan><tspan x="908.2" y="756.8" font-size="43.88">A</tspan><tspan x="938.1" y="738.5" font-size="65.92">−</tspan><tspan x="975.7" y="738.8" font-size="66.95">I</tspan><tspan x="993.5" y="756.6" font-size="43.88">0</tspan></text>
</svg>
</body></html>
